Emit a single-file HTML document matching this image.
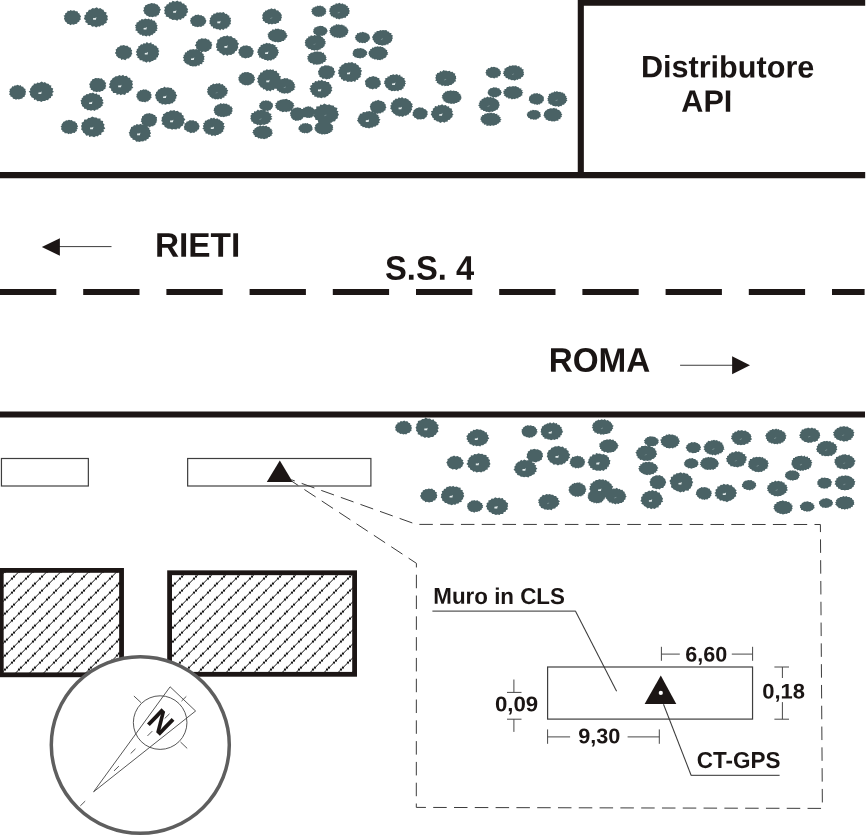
<!DOCTYPE html>
<html lang="it"><head><meta charset="utf-8"><title>Monografia CT-GPS - S.S. 4</title>
<style>
html,body{margin:0;padding:0;background:#fff;}
body{width:866px;height:836px;overflow:hidden;}
svg{display:block;will-change:transform;}
text{font-family:"Liberation Sans",Arial,Helvetica,sans-serif;font-weight:bold;fill:#1a1514;text-rendering:geometricPrecision;}
.t32{font-size:32px;}.t30{font-size:30.4px;}.t22{font-size:22px;}.t21{font-size:21px;}
.thin{stroke:#3e3e3e;stroke-width:1.2;fill:none;}
.dim{stroke:#484848;stroke-width:1.0;fill:none;}
.lead{stroke:#3a3a3a;stroke-width:1.05;fill:none;}
.uline{stroke:#585858;stroke-width:1.25;fill:none;}
.dash{stroke:#3c3c3c;stroke-width:1;fill:none;}
.thick{stroke:#1c1615;stroke-width:6.1;fill:none;}
</style></head><body>
<svg width="866" height="836" viewBox="0 0 866 836">
<defs>
<pattern id="hatch" patternUnits="userSpaceOnUse" x="-1" y="3.6" width="14" height="14">
<path d="M-1 15 L15 -1 M-1 1 L1 -1 M13 15 L15 13" stroke="#0d0d0d" stroke-width="1.0" fill="none"/>
<circle cx="1" cy="13" r="1.15" fill="#0d0d0d"/>
<circle cx="6" cy="8" r="1.15" fill="#0d0d0d"/>
<circle cx="8" cy="6" r="1.15" fill="#0d0d0d"/>
<circle cx="13" cy="1" r="1.15" fill="#0d0d0d"/>
</pattern>
</defs>
<rect x="0" y="0" width="866" height="836" fill="#ffffff"/>
<g id="trees" fill="#4a6265">
<path d="M63.9 18.8 L64.6 17.0 L63.5 15.7 L65.1 15.0 L65.2 13.2 L67.0 12.6 L67.6 10.8 L69.6 11.0 L70.4 10.0 L72.1 10.8 L74.3 10.3 L75.5 11.2 L77.5 11.3 L78.1 13.0 L79.6 13.6 L79.7 14.7 L81.1 16.3 L80.3 17.7 L80.8 19.5 L79.3 20.6 L79.4 21.6 L77.4 22.5 L77.1 23.8 L75.2 23.9 L73.6 24.8 L72.0 24.2 L70.4 25.2 L69.0 24.0 L67.5 23.9 L66.2 22.1 L65.0 21.6 L64.7 20.0Z M85.1 22.0 L85.8 20.2 L83.8 18.9 L84.8 16.8 L84.1 15.8 L86.2 14.2 L85.8 12.4 L87.7 11.9 L88.9 9.7 L90.5 9.7 L92.6 8.1 L94.3 8.4 L96.8 7.2 L98.5 8.7 L100.2 8.1 L102.2 9.6 L103.5 9.8 L104.2 11.7 L106.7 12.6 L106.0 14.4 L107.9 15.9 L107.3 17.8 L107.9 19.7 L106.3 21.0 L107.0 22.5 L104.2 23.9 L103.3 25.5 L101.3 25.3 L99.6 26.8 L98.1 26.3 L96.2 27.5 L94.4 26.3 L92.1 26.8 L90.6 25.1 L87.6 24.9 L87.8 23.4Z M149.3 16.9 L147.9 16.1 L146.3 15.6 L145.8 14.5 L144.0 13.3 L144.3 11.8 L142.9 11.0 L144.0 9.5 L143.6 7.5 L144.9 7.0 L144.9 5.6 L147.0 4.8 L148.0 3.9 L149.9 3.8 L151.5 2.9 L153.3 3.6 L154.4 3.3 L155.9 4.3 L157.5 4.5 L158.6 6.2 L160.0 7.2 L159.6 8.2 L161.0 9.5 L159.8 11.2 L159.9 12.8 L159.1 13.2 L158.8 14.9 L156.5 15.7 L156.5 16.7 L154.3 16.6 L152.3 17.3 L151.1 16.8Z M177.3 20.7 L175.1 19.7 L172.3 20.0 L171.3 19.0 L169.1 18.5 L168.8 17.2 L165.6 16.4 L166.1 15.1 L164.0 13.3 L165.0 12.1 L164.1 10.8 L165.0 8.6 L164.0 7.1 L166.0 6.2 L166.8 4.3 L168.5 4.2 L169.1 2.3 L171.4 2.5 L172.6 0.7 L175.1 1.7 L177.3 0.4 L178.9 1.7 L181.1 1.5 L182.1 3.4 L184.2 3.5 L184.7 4.7 L186.7 5.7 L186.7 8.0 L188.2 8.9 L187.4 10.8 L188.3 12.0 L186.4 13.4 L186.6 15.7 L184.8 16.3 L183.8 18.2 L181.9 18.2 L180.9 19.9 L178.6 19.3Z M146.5 36.4 L144.3 35.6 L142.3 36.1 L142.0 34.7 L139.8 34.7 L139.2 33.4 L137.5 32.7 L137.6 31.3 L135.1 30.3 L136.3 28.8 L135.2 27.9 L135.9 26.5 L134.8 25.3 L136.6 24.3 L136.3 22.7 L138.8 21.8 L138.8 20.6 L140.5 20.6 L141.6 19.1 L143.8 19.4 L145.1 18.4 L147.2 19.3 L148.9 18.6 L150.1 19.8 L151.7 18.9 L152.5 20.4 L155.1 20.8 L155.2 22.3 L156.7 22.9 L156.4 24.5 L157.7 25.4 L156.8 27.1 L157.8 28.5 L156.5 28.9 L157.4 30.7 L155.5 31.3 L155.3 32.7 L153.1 33.7 L152.5 35.2 L151.3 34.8 L149.3 36.5 L148.0 35.3Z M194.9 26.8 L193.9 25.9 L192.2 25.8 L191.8 23.8 L190.6 23.7 L190.7 21.8 L189.8 21.1 L190.7 19.7 L190.5 18.3 L192.0 17.4 L192.3 16.6 L193.9 16.3 L195.4 14.8 L196.4 15.1 L198.8 14.4 L199.3 15.2 L201.8 15.2 L202.2 15.9 L204.1 16.4 L204.8 18.1 L205.8 18.8 L205.5 19.7 L206.5 20.7 L205.9 22.1 L205.7 23.3 L204.2 24.5 L204.2 25.4 L202.6 25.7 L201.1 26.9 L199.3 26.6 L197.8 27.3 L196.6 26.7Z M227.0 28.4 L224.8 28.5 L223.5 29.9 L221.3 29.1 L220.2 30.4 L218.8 29.3 L216.5 29.3 L215.0 28.3 L213.2 28.4 L212.8 26.4 L210.9 26.2 L210.7 24.5 L209.2 23.4 L209.9 21.9 L209.1 20.7 L210.3 20.0 L209.7 18.3 L211.3 16.9 L211.1 15.4 L213.2 15.0 L213.1 13.7 L215.9 13.5 L216.8 12.2 L218.3 12.8 L220.1 12.2 L221.7 12.7 L223.6 12.1 L225.4 13.9 L226.9 13.7 L227.8 15.3 L229.6 15.8 L229.0 17.2 L231.1 18.0 L230.4 19.7 L231.2 20.7 L230.4 22.2 L231.0 24.1 L229.4 24.7 L229.3 26.4 L227.8 26.8Z M129.1 58.5 L126.9 58.5 L125.4 60.2 L123.0 59.2 L121.1 59.9 L120.8 58.5 L118.3 58.1 L117.7 56.9 L116.1 55.8 L116.3 54.6 L114.8 52.9 L116.1 51.5 L115.6 49.4 L116.9 48.8 L117.5 47.2 L119.1 47.0 L120.4 45.5 L122.3 45.5 L123.8 45.1 L125.9 45.9 L127.2 45.5 L128.9 47.3 L131.0 47.8 L130.9 49.5 L132.2 49.9 L131.6 52.1 L132.4 53.9 L131.5 54.6 L131.1 56.6 L129.9 57.0Z M135.9 54.7 L137.2 53.3 L135.7 51.9 L136.9 50.6 L136.6 49.4 L138.5 48.0 L138.0 46.6 L139.7 46.0 L141.0 44.2 L142.7 44.4 L143.7 42.9 L145.3 43.7 L146.8 42.0 L148.8 43.5 L151.2 42.3 L151.8 44.2 L153.5 43.9 L154.4 45.5 L156.4 45.7 L157.1 47.4 L158.7 48.5 L158.2 49.9 L159.5 51.1 L158.4 52.3 L159.1 54.5 L158.1 55.4 L158.0 57.2 L156.5 57.5 L156.3 59.4 L154.0 60.1 L152.9 61.1 L151.9 61.0 L149.6 62.4 L148.1 61.2 L146.6 62.8 L144.6 61.4 L142.6 61.4 L142.5 60.2 L139.8 60.2 L139.1 58.2 L137.3 57.9 L137.7 56.2Z M212.4 44.8 L211.6 46.2 L211.3 48.7 L209.8 49.2 L208.7 50.8 L207.4 51.1 L205.9 52.0 L203.4 51.5 L201.6 52.5 L200.5 51.0 L198.0 50.5 L197.5 49.2 L196.1 48.6 L196.2 46.4 L194.8 45.4 L196.3 43.5 L195.8 42.2 L197.5 41.1 L198.4 39.2 L200.2 39.2 L201.3 38.2 L204.1 38.7 L205.6 38.2 L207.3 39.4 L209.0 39.5 L210.0 41.4 L211.7 42.1 L211.5 44.0Z M215.9 47.5 L216.4 45.7 L216.1 44.0 L217.3 42.6 L217.2 39.7 L219.2 39.0 L220.4 37.3 L221.7 37.3 L223.8 36.0 L225.8 36.3 L227.3 35.3 L228.9 36.6 L231.2 35.9 L233.0 37.9 L235.2 38.2 L235.6 39.4 L237.7 40.8 L237.1 42.0 L239.2 43.7 L237.8 45.3 L238.3 47.8 L237.5 48.8 L236.9 50.8 L235.4 51.1 L234.2 53.6 L232.4 54.0 L231.3 55.0 L228.5 54.8 L227.4 56.0 L225.5 54.6 L223.6 55.5 L221.4 53.4 L219.5 52.7 L219.3 51.6 L216.4 50.3 L217.5 48.6Z M184.8 63.1 L184.7 61.7 L183.1 60.5 L184.1 59.1 L182.8 57.4 L184.0 56.2 L183.4 55.0 L184.8 54.4 L184.9 52.5 L186.8 52.2 L187.2 50.8 L188.6 50.7 L189.8 49.4 L192.2 49.4 L193.0 49.0 L194.8 49.4 L196.3 48.9 L198.0 50.1 L199.8 50.2 L200.1 51.4 L201.9 51.7 L202.1 53.3 L203.7 53.9 L203.5 55.8 L204.7 56.3 L204.0 57.7 L204.5 59.4 L203.2 60.3 L204.4 61.6 L202.2 62.4 L202.3 64.2 L200.0 64.0 L199.3 66.0 L197.6 65.2 L196.1 66.5 L194.4 66.2 L192.8 66.5 L191.3 65.9 L189.9 66.0 L189.0 64.7 L186.7 64.3 L186.1 63.3Z M239.4 55.6 L239.3 53.8 L238.1 53.1 L238.9 51.3 L238.4 49.4 L239.7 48.9 L240.5 47.1 L241.8 46.7 L243.5 45.5 L244.7 45.8 L247.2 45.2 L247.9 45.9 L250.5 46.2 L251.0 47.5 L252.9 48.6 L252.5 49.6 L253.9 50.7 L253.3 52.4 L253.4 53.7 L252.5 54.9 L251.8 56.6 L249.6 57.3 L249.0 58.1 L247.2 57.8 L245.6 58.6 L243.4 57.7 L241.6 57.4 L240.9 55.9Z M274.0 59.4 L272.5 59.2 L271.0 60.7 L269.2 60.1 L267.7 60.9 L266.6 59.9 L264.7 60.1 L263.3 58.8 L262.0 59.0 L260.7 57.6 L259.3 57.7 L259.1 55.6 L257.8 54.8 L258.4 53.6 L256.8 52.1 L258.3 51.0 L257.4 49.9 L258.8 48.8 L258.8 47.6 L260.7 46.4 L260.6 45.1 L262.7 44.7 L263.7 43.6 L264.9 44.1 L266.4 42.7 L268.2 43.6 L269.3 43.1 L271.4 44.3 L272.9 44.1 L274.0 45.1 L275.8 45.2 L275.3 46.7 L277.7 47.4 L276.9 48.8 L278.6 50.3 L278.1 51.5 L279.1 52.8 L277.9 53.6 L277.9 55.2 L276.6 55.9 L276.2 57.8 L275.0 57.9Z M24.7 96.8 L22.9 97.2 L22.4 98.5 L20.2 98.9 L18.8 99.6 L17.4 99.0 L16.0 99.8 L14.8 98.9 L13.0 98.7 L12.3 97.0 L10.4 96.5 L10.5 95.4 L9.1 94.6 L9.9 92.8 L9.1 91.3 L10.0 90.6 L9.6 89.1 L11.3 88.2 L12.2 86.3 L13.8 86.4 L14.3 85.6 L16.0 85.5 L17.7 84.7 L19.5 85.8 L20.7 85.1 L21.4 86.5 L23.3 86.8 L23.8 88.2 L25.6 89.0 L25.3 90.2 L26.1 91.7 L25.4 93.3 L25.9 94.1 L24.8 95.6Z M45.2 101.0 L42.8 100.9 L41.4 102.0 L39.5 101.1 L37.2 101.2 L36.0 99.5 L34.0 99.9 L33.8 98.2 L31.4 97.3 L31.0 96.0 L29.9 95.1 L30.2 93.1 L28.7 91.6 L30.4 90.6 L29.9 88.9 L31.4 87.2 L31.9 85.9 L33.6 85.0 L33.9 83.4 L36.3 83.8 L37.2 82.5 L39.2 82.9 L41.7 81.5 L43.5 82.7 L44.9 82.1 L46.5 83.5 L48.5 83.8 L49.6 85.3 L51.4 85.5 L50.9 87.4 L53.2 88.4 L52.6 90.8 L54.0 91.7 L52.2 93.1 L53.0 95.4 L51.2 96.2 L50.9 98.1 L49.0 98.6 L48.1 100.2 L46.1 100.1Z M90.8 89.7 L90.7 88.0 L89.6 87.4 L89.9 85.5 L88.9 83.8 L90.2 83.4 L90.4 81.5 L91.6 81.1 L92.5 79.0 L93.8 79.1 L95.4 77.9 L97.5 78.3 L99.0 77.9 L99.9 78.8 L101.7 78.3 L103.3 80.2 L104.5 80.2 L104.9 82.2 L106.3 82.8 L105.5 84.7 L106.3 85.9 L105.5 87.1 L105.7 88.5 L103.6 89.8 L103.0 91.0 L101.5 91.1 L99.7 92.0 L98.2 91.6 L96.7 92.2 L95.1 91.5 L93.0 91.4 L92.7 90.2Z M128.2 92.9 L126.4 92.8 L125.0 95.0 L122.5 94.2 L120.6 95.2 L119.3 93.9 L116.6 94.9 L116.2 93.1 L113.0 93.0 L112.7 91.5 L111.0 90.4 L111.2 88.8 L108.7 87.2 L110.0 85.6 L108.9 84.1 L110.3 82.9 L110.1 81.0 L112.0 79.6 L112.6 78.0 L114.2 77.6 L115.5 76.3 L117.5 76.2 L119.5 74.9 L121.1 75.9 L123.1 74.8 L124.4 76.3 L126.8 75.8 L128.1 77.8 L130.1 77.7 L130.7 80.1 L132.9 80.9 L132.0 82.9 L133.1 84.0 L132.0 86.1 L133.4 88.0 L131.6 88.4 L131.4 90.2 L129.5 90.9Z M94.7 111.0 L92.9 110.0 L90.9 110.8 L89.3 110.1 L87.1 110.2 L86.2 108.8 L84.5 109.0 L83.8 107.2 L81.8 106.1 L82.1 104.8 L80.9 103.8 L81.3 102.1 L80.4 100.6 L81.9 99.4 L81.6 98.0 L83.1 97.4 L83.2 96.0 L85.6 95.2 L86.5 94.0 L88.3 94.2 L89.8 92.9 L91.7 93.3 L92.9 92.6 L95.0 94.0 L96.9 93.2 L97.4 94.7 L99.6 94.7 L100.4 97.0 L101.9 97.0 L101.9 98.9 L103.4 100.0 L102.4 101.8 L103.9 102.9 L102.3 103.9 L102.8 105.7 L101.2 106.4 L100.4 107.8 L98.7 108.2 L98.1 109.6 L95.8 109.8Z M142.5 102.1 L141.0 101.4 L138.8 101.0 L138.5 99.5 L137.3 99.5 L137.4 98.1 L136.2 97.0 L136.8 95.3 L136.3 94.4 L137.7 93.0 L137.5 91.8 L139.5 91.2 L140.3 90.0 L142.0 90.2 L143.2 89.2 L144.9 89.8 L146.1 89.3 L147.4 90.6 L148.9 90.7 L149.5 91.8 L150.9 92.1 L150.6 93.6 L151.7 94.8 L151.1 96.2 L151.7 97.8 L150.6 98.3 L150.2 99.8 L149.1 100.0 L148.1 101.5 L146.1 101.4 L145.3 102.4 L143.9 101.7Z M161.9 104.8 L161.3 103.5 L158.9 103.1 L158.6 101.6 L157.0 100.9 L156.4 98.9 L155.5 98.3 L155.7 96.6 L154.8 95.0 L155.9 93.7 L156.1 92.0 L157.3 91.5 L158.2 89.6 L159.6 89.3 L160.9 87.9 L162.8 88.0 L164.8 86.6 L165.8 87.7 L168.1 87.2 L169.0 87.8 L172.1 87.9 L172.0 89.2 L174.3 90.1 L174.4 91.3 L175.9 92.1 L175.8 94.1 L177.3 95.5 L175.9 97.0 L176.7 98.1 L175.3 99.0 L175.4 100.9 L173.7 101.7 L172.4 103.4 L171.0 103.2 L169.8 104.3 L167.3 104.0 L165.3 104.8 L163.7 104.0Z M68.6 134.3 L67.3 133.3 L64.7 133.3 L64.1 132.1 L62.3 131.5 L62.3 130.2 L60.9 129.2 L61.6 127.7 L60.6 126.5 L61.9 125.3 L61.5 124.3 L62.8 122.9 L63.4 121.7 L65.1 121.2 L66.0 120.3 L67.4 120.6 L68.9 119.7 L70.7 120.2 L71.8 119.9 L72.9 121.2 L75.3 121.5 L75.8 123.0 L76.8 123.1 L77.2 124.9 L78.2 126.4 L77.1 127.3 L77.8 128.8 L76.6 129.4 L77.0 130.9 L75.4 131.7 L74.8 133.1 L72.8 132.8 L71.1 134.1 L69.5 133.5Z M97.7 136.6 L96.1 136.0 L94.1 137.2 L91.9 136.3 L89.1 137.0 L88.8 135.2 L86.2 135.8 L84.9 133.4 L83.2 132.8 L82.6 130.8 L81.0 129.2 L81.7 127.9 L81.0 125.7 L82.0 124.7 L81.5 122.8 L83.7 121.8 L84.3 119.5 L86.9 119.5 L88.4 117.7 L90.0 118.0 L92.3 116.6 L94.3 117.6 L96.5 117.6 L97.5 118.4 L100.5 118.5 L100.6 120.4 L103.2 121.0 L102.9 123.0 L104.7 124.7 L103.7 126.1 L105.3 128.5 L103.3 129.7 L104.4 131.2 L101.4 132.7 L101.2 134.9 L99.2 134.8Z M153.3 126.3 L151.0 126.2 L149.8 127.5 L148.8 126.6 L146.8 127.0 L146.1 126.0 L143.9 125.9 L143.8 124.5 L141.7 123.9 L142.1 122.8 L140.6 121.3 L141.5 120.2 L141.0 118.9 L142.0 118.1 L142.0 116.3 L143.5 115.8 L144.1 114.6 L145.1 114.3 L146.6 113.5 L148.4 113.5 L149.4 112.9 L150.9 113.8 L152.2 113.7 L154.0 114.9 L155.2 115.1 L155.5 116.4 L157.1 117.2 L156.7 118.9 L157.3 120.3 L156.5 120.8 L156.8 122.3 L155.8 123.1 L155.2 125.0 L153.6 125.5Z M161.6 124.2 L162.7 122.1 L161.2 121.0 L161.8 119.5 L161.7 117.4 L163.4 115.8 L162.8 114.3 L164.9 113.5 L166.8 111.7 L168.6 111.9 L170.5 110.3 L172.1 110.7 L174.4 110.0 L175.4 111.2 L177.5 110.8 L179.6 112.6 L181.6 112.8 L181.9 114.8 L183.8 115.7 L183.5 117.6 L185.4 119.5 L183.8 121.2 L184.7 123.2 L183.2 123.7 L183.2 125.5 L180.9 126.5 L179.8 128.8 L177.1 128.4 L176.5 129.4 L173.3 129.0 L172.2 129.8 L170.3 128.8 L167.7 128.8 L166.6 127.7 L164.7 127.0 L164.2 125.2Z M196.8 131.6 L195.5 131.6 L194.2 133.0 L192.4 132.6 L190.7 133.2 L188.7 131.8 L187.0 131.8 L186.4 130.5 L184.3 129.8 L184.2 127.7 L183.7 127.1 L184.7 125.2 L184.4 123.8 L186.2 122.8 L186.6 121.4 L188.0 121.6 L189.9 120.1 L191.0 120.6 L193.6 120.2 L194.6 121.2 L196.3 120.9 L197.3 122.8 L198.5 123.2 L198.9 125.0 L199.7 126.0 L199.1 127.7 L199.1 129.3 L197.7 129.7Z M203.6 131.0 L204.3 129.8 L202.3 128.7 L203.6 127.6 L202.8 125.8 L204.1 124.8 L203.0 123.1 L204.7 122.8 L204.9 120.8 L206.7 120.6 L208.2 119.2 L209.5 119.5 L210.9 117.7 L212.7 118.4 L214.1 117.4 L215.2 118.9 L217.5 118.3 L218.0 119.2 L219.8 119.4 L220.6 120.7 L222.3 121.2 L222.9 122.8 L224.4 123.3 L223.5 125.4 L225.1 126.7 L223.6 127.7 L224.5 129.1 L223.0 129.8 L223.4 131.5 L221.6 132.4 L221.2 133.4 L218.9 134.1 L218.5 135.0 L216.3 134.9 L215.3 136.3 L213.9 135.3 L211.5 136.0 L210.5 134.5 L208.3 134.7 L207.9 133.7 L205.5 133.4 L205.4 131.7Z M130.6 137.6 L130.4 136.5 L129.2 135.0 L129.7 134.0 L128.6 132.7 L129.9 131.6 L129.8 129.9 L130.7 129.0 L131.1 126.9 L133.1 126.6 L134.0 124.9 L135.3 125.5 L136.7 124.1 L138.7 124.7 L141.0 123.7 L141.8 124.8 L144.1 124.1 L144.8 125.8 L147.0 126.1 L147.9 127.3 L149.3 128.0 L149.3 129.5 L150.5 130.4 L150.0 131.8 L151.2 133.3 L149.8 134.5 L150.9 136.4 L148.9 137.2 L148.6 138.7 L146.7 139.3 L146.2 140.8 L144.2 140.5 L143.2 141.6 L141.1 141.2 L139.4 141.9 L138.0 141.4 L136.2 141.7 L135.0 140.1 L132.6 139.8 L132.4 138.3Z M268.6 24.4 L267.3 23.1 L265.4 23.1 L264.6 21.5 L262.7 20.8 L263.1 19.3 L262.1 18.4 L262.7 16.6 L262.1 15.1 L263.0 13.9 L263.3 12.4 L264.7 11.9 L265.3 10.4 L266.8 10.5 L268.4 9.2 L270.0 9.2 L271.3 8.3 L273.2 9.3 L275.0 8.6 L276.5 10.4 L278.2 10.3 L279.0 11.8 L280.5 12.7 L281.0 14.1 L281.9 15.0 L281.4 16.5 L282.0 17.8 L281.0 18.8 L281.3 20.5 L279.0 21.2 L279.0 22.8 L276.5 23.2 L276.0 23.9 L273.3 23.7 L272.0 24.6 L270.3 23.8Z M281.1 42.1 L279.5 41.9 L277.8 42.5 L276.9 41.7 L275.1 42.3 L273.8 41.4 L271.9 41.3 L271.6 40.4 L269.7 39.8 L269.6 39.0 L268.5 38.5 L268.4 37.0 L267.7 36.3 L268.3 35.1 L267.2 34.0 L269.0 33.3 L268.5 32.5 L270.1 31.8 L270.2 30.9 L272.0 30.4 L272.4 29.2 L274.6 29.7 L275.4 28.5 L276.9 29.1 L278.1 28.6 L280.1 29.4 L281.5 29.3 L282.3 30.1 L283.9 30.0 L284.6 31.2 L286.0 31.8 L285.5 32.8 L287.0 33.8 L286.3 34.5 L287.9 35.7 L286.7 36.7 L286.9 37.4 L285.4 38.5 L285.5 39.7 L284.1 39.7 L284.1 41.1 L281.8 41.0Z M316.4 16.7 L315.1 15.9 L314.0 15.6 L313.4 14.5 L311.9 14.0 L312.4 12.8 L311.1 11.5 L312.0 10.8 L311.3 9.3 L312.4 9.0 L312.8 7.6 L314.2 7.4 L315.2 6.4 L316.8 6.4 L317.4 5.6 L318.6 5.9 L320.4 5.6 L321.5 6.2 L323.1 6.3 L324.0 7.7 L325.4 8.1 L325.2 9.0 L326.4 9.7 L325.7 10.8 L326.5 12.1 L325.6 12.6 L325.9 14.1 L324.4 14.6 L323.7 15.8 L322.5 15.7 L321.7 16.8 L320.0 16.5 L318.8 17.0 L317.2 16.5Z M336.2 19.1 L335.2 17.6 L333.5 17.5 L332.5 16.3 L331.0 16.3 L330.7 14.4 L329.4 14.1 L330.4 12.5 L328.7 11.0 L330.2 9.9 L329.0 8.9 L330.5 8.0 L330.8 6.1 L332.3 6.1 L332.9 4.9 L335.3 4.6 L335.8 3.3 L337.7 3.8 L339.4 2.8 L341.1 4.1 L342.5 3.2 L343.9 4.4 L345.2 4.2 L346.2 5.7 L348.0 6.0 L347.5 7.5 L349.4 8.3 L348.8 9.7 L350.0 10.9 L349.0 12.1 L349.7 13.3 L348.0 14.4 L347.8 16.1 L346.4 16.1 L345.9 17.8 L343.7 17.7 L342.3 18.6 L340.8 18.4 L339.1 19.4 L337.9 18.4Z M316.7 35.5 L315.4 34.2 L313.9 33.7 L313.7 32.7 L313.0 31.8 L313.6 30.8 L313.2 29.4 L314.2 29.0 L314.4 27.5 L316.1 27.3 L317.1 26.4 L318.6 26.3 L320.1 25.7 L321.1 26.1 L323.2 26.1 L323.6 27.0 L325.6 27.5 L326.0 28.2 L327.1 28.9 L327.0 30.0 L327.9 31.0 L326.8 32.2 L326.7 33.4 L325.4 34.0 L325.0 35.2 L323.7 35.2 L322.2 36.0 L320.6 35.6 L319.2 36.4 L317.8 35.3Z M330.3 34.6 L330.6 33.3 L329.4 32.6 L330.0 31.3 L329.0 30.8 L330.4 29.4 L329.6 28.5 L331.0 28.0 L330.9 26.9 L333.1 26.2 L333.6 25.3 L335.3 25.4 L336.1 24.1 L337.6 24.7 L338.8 24.2 L340.0 24.9 L342.1 24.4 L343.0 25.5 L344.3 25.2 L344.7 26.4 L346.4 26.8 L346.8 28.3 L348.3 28.9 L347.6 29.7 L348.8 30.7 L347.8 31.7 L348.3 32.8 L347.4 33.5 L347.0 35.0 L345.7 35.0 L345.4 36.8 L343.3 36.7 L343.2 37.4 L341.4 37.4 L339.7 38.3 L338.5 37.5 L337.4 38.0 L335.9 37.2 L333.8 37.5 L333.7 36.3 L332.2 36.2 L331.5 35.1Z M324.7 45.9 L323.3 47.1 L323.0 47.8 L320.8 48.5 L320.3 49.7 L319.2 49.5 L317.4 50.7 L315.9 50.0 L314.4 50.7 L313.0 49.9 L311.6 50.3 L310.4 48.9 L308.2 49.0 L308.1 47.8 L306.3 47.2 L306.4 46.0 L304.8 45.5 L305.5 43.9 L304.7 42.5 L305.5 41.5 L304.8 40.7 L306.2 39.5 L306.4 38.5 L308.2 38.0 L308.1 36.5 L310.1 36.5 L310.9 35.2 L313.2 35.9 L314.6 34.7 L315.7 35.6 L317.7 34.9 L319.0 36.0 L320.8 35.7 L321.5 37.1 L322.8 37.2 L323.4 38.6 L325.1 39.6 L324.6 41.0 L326.0 41.6 L325.2 42.8 L325.8 43.8 L324.5 44.7Z M320.3 64.3 L318.0 64.4 L316.6 64.7 L315.3 64.3 L313.4 64.7 L312.5 63.2 L310.1 62.9 L309.7 61.9 L307.8 61.0 L308.6 60.1 L307.1 59.1 L308.0 57.7 L307.0 56.4 L308.7 55.7 L308.4 54.3 L309.9 53.9 L310.8 52.7 L313.1 52.6 L314.5 51.4 L316.1 51.8 L317.0 51.2 L318.7 51.7 L321.3 51.7 L322.2 52.9 L323.9 52.6 L324.2 54.4 L325.6 54.9 L325.8 56.5 L326.6 57.2 L325.8 58.5 L326.9 59.6 L325.5 60.5 L325.3 62.1 L323.6 62.1 L322.7 63.7 L321.3 63.5Z M355.4 39.4 L355.6 38.5 L354.7 37.3 L355.7 36.4 L355.3 35.4 L357.0 34.6 L357.1 33.1 L358.7 33.3 L360.1 32.2 L361.4 32.5 L362.7 31.8 L364.4 32.4 L366.2 32.7 L366.9 33.4 L368.7 33.9 L368.7 35.0 L369.7 35.7 L369.7 37.1 L370.4 38.2 L369.5 38.8 L369.4 40.3 L368.0 40.8 L367.6 41.9 L366.3 41.9 L365.3 43.2 L363.5 42.7 L362.3 43.3 L360.9 42.5 L359.4 43.1 L358.3 41.8 L356.7 41.3 L356.7 40.3Z M376.0 44.1 L375.2 42.6 L374.1 42.2 L373.7 40.4 L372.6 39.8 L372.8 38.4 L371.9 37.0 L373.2 35.8 L373.0 34.9 L374.6 33.7 L374.6 32.3 L376.3 32.5 L376.6 31.1 L379.2 31.0 L380.1 30.1 L381.5 30.6 L382.9 29.9 L384.3 30.3 L386.6 30.1 L387.0 31.3 L389.2 31.7 L389.4 32.9 L391.6 33.1 L391.1 34.5 L393.1 35.7 L392.3 36.8 L392.8 38.4 L392.0 39.4 L392.1 41.0 L390.8 41.8 L390.9 42.5 L388.7 43.2 L388.4 44.6 L386.0 44.4 L385.6 45.3 L383.5 45.2 L382.1 45.7 L380.6 45.0 L378.5 44.9 L377.4 43.9Z M354.7 57.3 L353.9 55.9 L352.7 55.4 L353.0 53.8 L352.2 53.2 L353.4 51.9 L352.8 51.2 L354.3 50.1 L354.6 49.0 L356.3 49.0 L357.3 48.3 L359.0 48.5 L360.8 47.9 L361.9 48.4 L363.5 48.7 L364.4 49.5 L366.1 50.5 L366.1 51.0 L367.5 52.0 L366.7 53.3 L367.4 54.4 L365.9 55.2 L365.4 56.6 L364.0 56.9 L363.3 57.9 L361.4 57.8 L360.3 58.5 L358.5 58.1 L357.2 58.1 L356.5 57.4Z M385.4 58.0 L383.7 58.2 L382.8 59.5 L381.1 59.4 L380.4 60.3 L378.6 59.8 L377.7 60.2 L376.5 59.3 L374.2 59.6 L373.7 58.8 L371.8 58.4 L371.7 57.8 L369.6 57.0 L370.1 56.2 L368.7 55.2 L369.1 54.3 L368.1 53.0 L369.1 52.3 L368.8 51.3 L370.2 50.4 L370.2 49.0 L371.7 48.9 L372.1 47.5 L373.8 47.7 L375.0 46.4 L376.1 46.9 L377.2 46.3 L379.1 46.8 L380.7 46.2 L381.3 47.0 L382.8 47.1 L384.3 48.3 L385.3 48.6 L385.6 49.5 L387.3 50.3 L386.9 51.7 L388.4 52.4 L387.4 53.0 L388.3 54.6 L386.6 55.0 L386.7 56.3 L385.9 56.9Z M326.4 79.6 L324.8 78.5 L322.5 78.9 L321.7 77.5 L319.5 77.0 L319.3 75.1 L318.3 74.4 L318.4 72.8 L317.9 71.3 L319.2 70.1 L319.6 68.1 L320.7 67.4 L321.3 66.2 L323.4 66.2 L324.7 65.2 L327.1 65.4 L328.9 65.4 L330.0 66.3 L332.0 66.4 L332.6 67.6 L334.0 68.2 L334.1 70.6 L335.5 71.7 L334.4 72.9 L334.5 74.9 L333.0 75.8 L332.8 77.4 L330.8 77.7 L329.7 79.1 L328.2 78.8Z M358.1 80.1 L356.2 79.8 L355.1 81.9 L353.4 81.1 L351.5 82.1 L349.8 81.4 L347.4 81.9 L346.0 80.6 L343.4 81.1 L342.8 79.5 L341.2 79.2 L340.6 77.0 L338.7 76.6 L339.5 74.7 L337.8 73.2 L338.8 71.9 L338.1 70.3 L339.8 69.0 L339.2 66.9 L341.1 66.5 L341.5 65.1 L343.7 64.3 L344.9 62.7 L347.3 63.2 L348.6 62.2 L350.1 62.7 L352.1 61.9 L354.0 63.6 L355.6 63.0 L356.7 64.8 L358.3 65.0 L359.2 67.3 L361.4 67.9 L360.4 69.8 L362.1 70.4 L360.8 72.9 L361.6 74.2 L360.5 75.2 L360.8 76.9 L358.4 78.3Z M255.3 79.9 L253.9 80.8 L253.8 82.5 L251.8 83.4 L251.0 84.5 L249.6 84.7 L248.0 85.6 L246.1 84.9 L245.3 85.6 L243.9 84.7 L242.3 84.6 L241.3 83.3 L239.3 82.2 L239.5 81.2 L238.4 80.0 L238.8 78.4 L238.1 77.7 L239.7 76.1 L239.3 74.7 L241.0 74.4 L242.1 72.7 L243.8 72.7 L244.6 72.0 L246.2 72.3 L248.1 72.0 L249.9 73.1 L251.4 72.9 L251.8 74.1 L253.8 75.0 L253.9 76.2 L255.0 77.5 L254.3 78.5Z M258.6 85.0 L258.8 83.4 L257.2 81.8 L258.2 80.0 L256.9 78.5 L258.3 77.2 L258.6 75.3 L260.0 74.5 L260.2 72.5 L262.3 72.4 L263.5 70.4 L265.3 70.4 L266.6 69.2 L268.8 70.0 L270.5 69.3 L271.6 70.1 L273.3 69.2 L274.3 71.0 L276.7 70.8 L277.4 73.0 L279.4 73.6 L279.0 75.8 L281.0 76.3 L280.3 78.1 L281.0 79.7 L280.3 81.1 L280.6 83.7 L278.9 84.4 L279.1 86.7 L277.2 86.4 L276.4 88.5 L274.3 88.7 L274.0 90.3 L271.8 89.8 L270.5 91.4 L268.6 90.3 L266.8 91.2 L264.8 89.1 L263.6 89.8 L262.4 87.7 L260.5 87.3 L260.0 85.8Z M290.4 92.7 L288.9 92.8 L287.9 93.8 L286.0 93.0 L284.7 93.7 L283.1 93.2 L281.4 93.2 L281.0 92.3 L278.9 92.3 L278.9 91.0 L276.7 90.4 L277.0 88.9 L275.7 88.5 L276.7 87.3 L275.5 86.2 L276.5 85.1 L275.7 83.8 L277.2 83.0 L276.6 81.6 L278.8 80.9 L278.9 79.7 L280.7 80.0 L281.7 78.8 L283.0 79.0 L284.5 77.9 L286.0 78.6 L287.3 78.0 L288.9 79.4 L290.4 79.3 L290.8 80.1 L292.9 80.8 L292.7 81.9 L294.2 82.5 L294.1 83.7 L295.2 84.7 L294.3 86.0 L295.8 87.0 L294.2 88.0 L294.6 89.9 L292.9 90.2 L292.8 91.1 L291.2 91.3Z M314.6 96.9 L314.1 95.1 L312.1 94.8 L311.8 92.8 L310.1 91.4 L310.8 90.2 L309.1 88.8 L311.0 87.4 L309.9 86.1 L312.3 84.7 L311.9 83.1 L314.3 82.7 L315.1 81.1 L317.4 81.4 L318.7 80.0 L320.1 80.9 L321.7 79.7 L323.7 81.2 L325.4 80.8 L326.4 82.1 L329.0 82.0 L329.7 84.2 L331.1 84.7 L331.2 86.6 L332.5 87.8 L331.4 88.9 L332.4 91.0 L331.0 91.5 L330.8 93.3 L328.8 94.6 L328.2 95.8 L326.3 96.4 L325.0 97.8 L323.0 97.3 L321.6 98.2 L319.5 97.4 L317.5 97.7 L316.1 96.4Z M381.0 84.4 L379.7 85.6 L379.6 86.7 L377.6 87.6 L376.6 89.0 L374.2 88.6 L372.8 89.4 L371.2 88.8 L369.6 88.8 L368.1 87.2 L366.3 87.0 L366.0 85.4 L365.1 84.3 L365.4 82.9 L364.8 80.8 L366.2 80.1 L366.5 78.8 L368.4 78.1 L369.2 76.7 L370.7 76.9 L373.3 76.1 L374.8 76.8 L376.4 76.7 L377.3 77.7 L379.4 78.2 L379.4 79.9 L380.6 80.9 L380.5 82.5Z M401.6 90.2 L399.2 90.1 L398.1 91.6 L396.6 90.4 L394.7 91.3 L393.8 90.7 L391.5 91.3 L390.4 90.2 L388.4 90.1 L388.2 88.4 L386.3 88.1 L386.3 86.9 L384.9 86.1 L385.4 84.7 L383.7 83.3 L384.8 81.9 L383.9 81.2 L385.5 79.9 L384.8 78.6 L387.5 77.8 L387.4 76.5 L389.4 76.4 L390.2 74.9 L392.4 75.1 L392.8 73.9 L394.8 75.0 L397.0 74.1 L398.3 75.5 L400.1 74.6 L400.6 76.4 L402.5 76.7 L402.8 77.9 L404.7 77.9 L404.4 80.0 L405.8 81.2 L404.9 82.5 L406.1 83.7 L404.9 84.2 L405.0 86.2 L403.3 86.8 L403.9 88.2 L401.9 88.9Z M206.8 91.8 L207.9 90.7 L207.0 89.2 L208.2 88.3 L208.0 87.0 L209.9 86.6 L210.5 84.9 L211.7 84.9 L213.2 83.6 L214.9 84.2 L216.8 83.3 L217.7 83.8 L219.9 83.0 L220.7 84.5 L222.7 84.0 L223.5 85.4 L225.3 86.2 L225.2 87.4 L227.2 88.0 L226.6 89.3 L228.3 90.4 L227.1 92.1 L227.8 92.9 L226.3 94.4 L226.6 95.8 L224.7 95.8 L224.2 97.8 L222.7 97.5 L221.2 99.2 L219.3 98.6 L218.2 99.5 L216.3 98.9 L215.2 99.6 L213.7 98.5 L212.1 98.4 L210.8 97.1 L209.9 96.8 L209.3 95.2 L207.8 94.5 L207.8 93.0Z M231.9 113.7 L230.4 114.2 L229.7 115.7 L227.9 115.7 L226.7 116.6 L225.2 116.6 L223.9 117.2 L222.8 116.7 L220.5 117.0 L219.9 116.2 L218.0 116.5 L216.6 115.0 L215.3 114.9 L215.2 113.7 L214.1 112.7 L214.4 111.3 L213.4 110.5 L214.1 109.3 L214.0 107.9 L215.4 107.1 L214.8 106.0 L216.8 105.6 L217.6 104.4 L219.5 104.3 L220.6 103.0 L222.1 103.9 L223.9 103.3 L225.0 103.9 L226.4 103.4 L227.9 104.7 L229.5 104.8 L229.9 106.2 L232.1 106.8 L231.8 108.1 L233.1 108.7 L231.9 109.8 L232.8 111.0 L231.6 112.3Z M271.9 108.8 L271.0 109.1 L270.6 110.2 L269.1 110.2 L267.6 111.2 L266.2 110.5 L264.9 111.2 L264.1 110.5 L262.8 110.7 L262.0 109.3 L260.6 109.2 L260.2 108.0 L259.1 107.3 L259.5 106.4 L258.9 105.4 L259.8 104.7 L259.4 103.3 L260.8 103.0 L261.0 101.7 L262.2 101.6 L263.0 100.6 L264.6 101.0 L265.6 100.3 L267.3 100.7 L268.7 100.6 L269.1 101.3 L270.7 101.4 L271.3 102.8 L272.5 102.9 L272.5 104.1 L273.2 105.1 L272.6 106.1 L273.1 106.7 L272.1 107.8Z M294.7 106.0 L293.1 106.8 L293.7 108.4 L292.4 108.5 L292.2 110.3 L290.3 110.4 L289.5 111.4 L287.1 111.4 L286.5 112.3 L284.8 111.6 L282.7 112.3 L281.3 111.3 L279.8 111.2 L278.8 110.0 L277.1 109.8 L276.7 108.5 L275.4 107.9 L275.9 106.4 L274.6 105.7 L276.3 104.3 L275.1 103.2 L277.1 102.6 L277.4 100.8 L279.2 100.7 L279.8 100.0 L282.3 99.6 L282.9 99.2 L284.7 99.3 L286.4 98.8 L288.4 100.0 L290.1 100.1 L290.2 101.0 L292.3 101.7 L292.8 102.9 L294.1 103.2 L293.4 104.5Z M260.2 125.5 L258.7 124.4 L257.4 125.2 L256.1 123.9 L253.4 123.6 L253.0 122.1 L251.0 121.3 L251.4 119.9 L250.2 118.7 L250.9 117.6 L250.4 115.7 L251.6 114.7 L251.3 113.1 L253.8 112.9 L254.1 111.2 L256.0 111.5 L257.9 109.6 L259.2 110.6 L261.2 109.7 L263.2 110.5 L265.0 110.3 L265.9 111.5 L268.9 111.6 L268.8 113.0 L271.6 114.1 L270.6 115.4 L272.5 116.7 L270.9 117.5 L272.4 118.9 L270.2 120.3 L270.6 122.2 L269.0 122.2 L268.1 123.7 L266.3 124.0 L264.1 125.0 L262.6 124.6Z M252.2 132.6 L253.3 131.5 L252.8 130.1 L254.4 129.8 L254.5 128.6 L255.7 128.0 L257.1 126.7 L258.7 126.6 L260.0 125.5 L261.5 126.3 L263.4 125.5 L264.6 126.3 L266.5 125.6 L267.2 126.8 L269.5 127.0 L270.0 128.4 L271.9 128.9 L271.3 130.3 L272.6 130.6 L271.8 132.2 L273.3 132.9 L271.5 134.2 L272.3 135.2 L270.5 136.0 L269.9 137.1 L268.4 137.1 L267.2 138.4 L265.9 138.4 L264.1 139.2 L262.4 138.6 L260.7 138.9 L260.0 138.1 L258.2 138.4 L257.3 137.1 L254.8 137.0 L254.9 135.4 L253.4 134.7 L253.9 133.9Z M293.1 120.1 L292.1 118.4 L291.2 117.9 L291.2 116.7 L290.1 115.3 L290.6 114.5 L289.8 113.1 L291.2 111.8 L290.5 110.8 L292.3 109.9 L292.7 108.9 L294.1 108.4 L294.8 107.7 L296.3 107.8 L297.5 107.2 L299.0 107.8 L300.9 108.0 L301.3 109.1 L302.9 109.1 L302.9 110.6 L304.6 111.4 L304.0 113.1 L305.2 114.1 L304.3 114.8 L304.6 116.8 L303.1 117.4 L302.8 118.8 L301.9 118.7 L301.0 120.2 L299.6 120.1 L298.3 120.8 L296.9 120.4 L295.6 120.9 L294.1 119.8Z M309.8 117.9 L308.3 117.7 L306.6 118.1 L306.2 117.3 L304.3 117.3 L303.6 116.2 L302.6 115.6 L302.3 114.4 L301.6 114.0 L301.9 112.5 L301.2 111.9 L302.1 110.5 L302.1 109.5 L303.1 109.0 L303.2 107.8 L304.8 107.7 L306.0 106.4 L306.8 107.0 L308.3 106.1 L309.0 106.8 L310.9 106.6 L311.4 107.4 L313.1 107.7 L313.2 108.6 L314.8 109.7 L314.4 110.9 L315.1 111.9 L314.6 112.5 L314.7 114.0 L313.9 114.4 L313.7 115.7 L312.8 116.2 L312.0 117.6 L310.6 117.4Z M331.5 122.8 L329.4 123.0 L326.9 124.2 L325.3 123.4 L323.0 123.8 L321.1 122.5 L318.4 122.7 L317.6 120.1 L315.5 120.0 L315.0 117.7 L313.4 116.3 L314.3 114.4 L312.7 112.7 L314.4 111.6 L314.1 109.8 L316.3 108.7 L316.2 106.5 L319.8 106.3 L320.0 104.6 L322.5 105.1 L324.2 103.5 L327.3 104.9 L329.4 104.2 L330.7 105.2 L334.2 105.7 L334.0 107.1 L337.5 108.1 L336.7 110.4 L338.6 111.5 L337.6 112.7 L339.0 114.6 L337.7 116.4 L337.9 118.3 L335.9 119.2 L335.1 121.2 L332.9 121.5Z M312.7 129.7 L311.9 130.0 L311.7 131.0 L310.4 131.5 L309.5 132.5 L308.1 132.7 L307.3 133.4 L305.6 132.8 L304.5 133.5 L303.3 132.7 L302.1 133.0 L301.2 131.7 L299.7 131.7 L299.9 130.6 L298.3 129.6 L298.9 129.0 L298.1 128.0 L299.3 127.0 L298.9 126.2 L300.2 125.7 L300.2 124.6 L301.9 124.4 L302.6 123.2 L304.2 123.6 L305.5 123.0 L306.3 123.5 L307.7 123.1 L308.6 124.0 L310.7 124.3 L311.0 125.3 L312.2 125.7 L311.9 127.0 L312.8 127.7 L312.4 128.3Z M314.9 130.8 L315.7 130.0 L314.0 129.1 L315.2 128.2 L314.2 127.4 L315.6 126.2 L314.9 125.3 L316.2 124.3 L316.4 123.7 L318.2 122.8 L318.5 122.2 L320.4 122.2 L321.3 121.2 L322.8 121.9 L323.9 121.2 L325.3 121.7 L327.3 121.6 L328.3 122.4 L329.6 122.4 L330.2 123.3 L331.5 124.1 L331.7 124.9 L333.2 125.6 L332.7 126.7 L333.3 127.9 L332.4 128.7 L333.4 129.9 L331.6 130.6 L332.3 131.5 L330.3 132.0 L330.3 133.1 L328.7 133.1 L327.7 134.1 L326.0 133.9 L324.5 134.5 L323.2 134.0 L322.0 134.7 L320.6 133.7 L318.9 133.7 L318.5 133.0 L317.1 132.7 L316.6 131.7Z M380.6 113.5 L378.7 113.2 L377.6 113.9 L376.3 113.0 L374.2 113.1 L373.8 112.1 L371.4 111.5 L371.2 109.9 L370.2 109.2 L370.4 108.1 L369.7 106.4 L370.4 105.6 L370.5 103.9 L372.0 102.8 L372.3 101.7 L374.2 101.4 L375.6 100.4 L376.6 100.7 L378.2 99.8 L379.7 100.7 L382.1 100.9 L382.4 101.7 L384.1 102.1 L384.8 104.1 L385.9 104.6 L385.6 105.9 L386.5 107.7 L385.6 108.3 L385.5 110.2 L383.8 110.9 L383.3 112.5 L381.8 112.3Z M360.3 125.6 L360.4 124.3 L358.4 123.0 L358.6 122.2 L356.9 120.6 L358.0 119.6 L357.5 118.2 L358.6 117.3 L358.7 115.7 L359.7 115.2 L359.8 113.7 L362.3 113.6 L362.8 112.1 L365.5 112.3 L366.6 111.2 L367.7 111.6 L369.5 111.1 L371.1 111.8 L373.4 111.6 L373.7 112.6 L376.3 112.7 L376.6 114.6 L378.7 114.9 L378.0 116.2 L379.6 117.1 L378.7 118.5 L380.6 119.6 L379.1 120.9 L379.8 122.7 L378.4 123.2 L378.3 125.1 L376.3 125.4 L375.4 126.7 L373.7 126.6 L372.4 127.8 L370.9 127.4 L369.1 128.4 L367.5 127.8 L365.7 128.0 L364.4 127.1 L362.6 127.3 L362.3 126.2Z M390.2 108.7 L390.8 107.0 L390.2 105.5 L391.6 104.9 L390.9 102.5 L392.6 102.5 L393.0 100.4 L394.4 100.2 L395.7 98.6 L397.5 98.9 L398.8 97.2 L400.6 98.3 L402.0 96.9 L403.8 98.4 L405.9 97.9 L407.1 99.2 L408.1 99.0 L408.9 100.4 L410.5 101.2 L411.1 102.9 L412.8 104.0 L411.9 105.6 L413.1 106.8 L411.6 107.8 L412.2 110.1 L411.1 110.5 L410.7 112.4 L409.1 113.1 L409.1 114.2 L406.6 114.9 L406.3 116.0 L404.4 115.5 L402.8 117.1 L400.9 116.1 L399.1 116.8 L398.2 115.7 L395.9 115.5 L394.7 114.1 L393.7 113.8 L392.7 112.2 L391.3 111.8 L392.0 110.0Z M412.3 115.2 L413.0 113.8 L412.4 112.7 L413.4 111.7 L413.6 110.2 L414.8 109.5 L416.2 108.2 L417.6 108.1 L418.9 107.2 L421.4 107.8 L422.7 107.4 L424.1 108.9 L426.0 109.5 L426.3 110.3 L428.0 111.9 L427.2 112.7 L427.8 114.4 L426.7 115.7 L426.7 117.0 L425.5 117.4 L423.9 119.2 L422.2 118.9 L421.0 119.6 L419.4 119.2 L417.3 119.5 L415.8 117.9 L414.1 117.5 L414.0 116.4Z M444.4 122.7 L442.5 121.8 L440.3 122.9 L438.5 121.5 L436.9 121.6 L435.8 120.2 L433.8 119.9 L433.8 118.3 L432.1 117.3 L432.1 116.0 L430.7 114.6 L431.8 112.7 L430.8 111.4 L433.0 110.4 L432.8 108.4 L434.4 107.9 L435.0 106.0 L437.4 106.4 L438.5 104.7 L439.8 105.4 L442.2 104.3 L443.6 105.5 L445.7 105.1 L447.1 106.5 L449.1 106.2 L449.3 107.9 L452.1 108.7 L451.7 110.2 L452.9 111.3 L452.0 112.9 L453.6 114.4 L452.4 115.5 L452.5 116.9 L450.7 118.2 L449.9 119.8 L448.0 120.1 L447.3 121.9 L446.0 121.5Z M436.6 82.8 L437.1 81.3 L435.1 80.6 L436.2 79.1 L435.1 78.0 L436.1 76.4 L435.5 74.8 L437.1 74.3 L436.9 73.1 L439.4 72.8 L440.1 71.1 L441.9 71.7 L443.5 70.1 L445.0 70.7 L446.1 70.4 L447.6 71.2 L450.1 70.7 L450.5 71.9 L452.6 71.8 L453.6 73.3 L455.3 73.6 L454.8 75.3 L456.1 76.1 L456.0 77.9 L456.4 78.9 L455.3 79.6 L456.2 81.2 L454.5 81.7 L453.8 83.3 L452.5 83.8 L451.5 85.1 L449.4 85.1 L448.6 86.0 L446.3 85.7 L444.6 86.3 L444.0 85.2 L441.8 85.9 L441.0 84.8 L438.6 84.3 L438.5 83.4Z M445.9 102.7 L445.1 101.4 L443.5 101.2 L443.6 99.7 L442.2 99.1 L442.8 97.9 L441.5 97.2 L442.5 96.6 L441.8 95.3 L443.2 94.4 L443.1 93.4 L444.6 92.8 L445.2 91.4 L446.8 91.6 L447.4 90.8 L449.1 91.1 L450.5 90.2 L452.3 91.0 L453.7 90.4 L454.8 91.0 L456.6 91.0 L457.6 92.1 L458.6 92.0 L458.8 93.5 L460.7 94.1 L460.1 94.9 L461.5 96.1 L460.8 96.9 L461.9 98.0 L460.6 98.9 L461.1 99.9 L459.6 100.5 L459.4 102.0 L458.0 101.9 L456.7 103.1 L455.3 103.1 L454.1 104.1 L452.8 103.5 L450.9 103.9 L449.9 103.3 L448.8 103.6 L447.0 102.7Z M494.3 78.5 L492.5 77.8 L490.7 78.0 L490.1 77.4 L488.6 77.1 L487.7 75.7 L486.1 75.3 L486.3 73.8 L485.3 72.8 L486.2 71.7 L486.0 70.1 L487.7 69.3 L488.0 68.1 L489.8 68.2 L491.3 66.8 L492.8 67.2 L493.9 66.8 L495.9 67.5 L497.6 67.8 L498.3 68.7 L499.5 69.1 L499.7 70.2 L501.0 71.4 L500.6 72.5 L501.1 74.0 L500.2 74.6 L500.1 76.1 L497.8 76.6 L497.5 77.9 L495.8 77.6Z M505.8 78.1 L505.3 76.3 L503.7 76.1 L504.1 74.3 L502.7 73.6 L503.7 72.5 L503.5 71.0 L504.8 70.4 L504.2 68.8 L506.3 68.1 L506.7 67.0 L508.2 66.9 L509.5 65.4 L511.1 66.1 L512.5 65.2 L514.0 65.6 L516.2 65.3 L517.6 66.5 L519.1 65.7 L520.0 67.4 L521.8 67.4 L521.7 69.1 L523.9 69.6 L523.0 71.3 L524.1 71.9 L523.5 73.3 L524.2 74.9 L523.0 75.4 L523.2 76.5 L521.0 77.4 L520.7 79.1 L518.8 78.8 L517.5 79.9 L516.4 79.4 L514.8 80.7 L513.2 79.9 L511.5 80.3 L509.8 79.3 L508.3 79.4 L507.9 78.3Z M501.0 94.8 L499.5 95.4 L498.6 96.4 L497.5 96.5 L496.1 97.5 L494.5 97.1 L492.9 97.2 L491.5 96.4 L489.8 96.3 L489.3 95.2 L487.8 94.1 L487.9 93.1 L487.5 92.0 L488.3 91.3 L488.3 90.0 L489.8 89.1 L490.2 88.2 L492.5 88.0 L493.1 87.3 L494.8 87.5 L496.8 87.4 L497.4 88.2 L499.3 88.2 L499.9 89.7 L501.2 90.5 L501.0 91.5 L502.0 92.3 L500.9 93.7Z M520.7 96.8 L518.7 97.2 L518.1 98.6 L516.0 98.2 L515.0 99.3 L513.4 98.7 L511.8 99.4 L510.5 98.3 L508.4 98.8 L508.0 97.5 L506.2 97.4 L505.5 96.2 L503.8 95.6 L504.5 94.3 L502.8 93.0 L504.1 92.3 L502.9 91.0 L504.7 90.5 L504.3 89.0 L506.0 88.9 L506.9 87.1 L508.6 87.1 L509.0 86.2 L511.1 86.7 L513.2 85.9 L514.0 86.4 L516.0 86.0 L516.9 87.1 L518.6 87.2 L519.6 88.4 L521.4 88.5 L521.2 90.1 L522.9 90.5 L521.9 91.7 L523.4 92.8 L521.9 93.7 L522.6 95.3 L520.7 96.0Z M478.0 105.3 L479.6 104.2 L478.6 103.0 L480.0 102.3 L479.6 100.8 L481.4 100.5 L481.7 98.9 L483.4 98.8 L484.0 97.6 L485.9 97.8 L487.5 96.6 L489.0 97.6 L491.0 96.8 L491.7 97.8 L493.7 97.3 L494.8 98.7 L496.4 98.9 L496.6 100.1 L498.3 100.4 L498.5 102.0 L499.4 102.5 L499.1 104.1 L500.1 105.2 L498.6 106.1 L499.4 107.0 L498.2 107.9 L497.9 109.5 L495.8 110.0 L495.6 110.8 L494.0 111.0 L492.4 112.1 L491.0 111.5 L489.4 112.6 L487.6 111.8 L485.9 112.1 L485.3 111.0 L483.1 110.9 L483.0 110.0 L480.4 109.5 L480.7 108.5 L479.1 107.4 L479.6 106.6Z M490.8 126.0 L488.9 125.6 L486.5 125.9 L486.3 124.6 L483.9 124.7 L484.0 123.6 L482.4 123.2 L482.1 121.8 L480.4 121.2 L481.5 120.2 L479.8 119.0 L481.2 118.3 L480.5 116.8 L482.1 116.5 L482.1 115.0 L483.9 115.0 L484.5 113.8 L486.9 113.4 L487.3 113.0 L489.3 113.2 L491.2 112.5 L492.3 113.3 L494.4 112.9 L495.3 114.0 L497.3 113.8 L497.4 115.2 L499.5 115.5 L499.2 116.8 L500.9 117.4 L500.1 118.8 L501.7 119.8 L500.2 120.6 L500.8 121.9 L499.4 122.2 L498.7 123.4 L496.9 123.9 L497.1 124.7 L495.0 125.0 L493.8 125.8 L491.7 125.3Z M543.9 101.0 L542.6 101.6 L542.1 103.2 L540.7 103.2 L539.8 104.4 L538.3 104.3 L537.4 105.1 L535.7 104.2 L534.2 104.6 L533.6 103.8 L531.5 103.6 L531.3 103.0 L529.9 102.4 L529.9 101.1 L528.6 100.4 L529.1 99.3 L528.9 97.8 L529.5 97.1 L529.6 96.0 L530.8 95.6 L531.8 94.1 L532.9 94.4 L533.8 93.2 L535.7 93.6 L537.3 93.0 L538.5 93.9 L539.9 93.5 L540.7 94.8 L542.0 94.9 L542.5 95.9 L544.1 96.9 L543.5 98.1 L544.2 99.1 L543.6 99.7Z M558.5 107.0 L557.2 106.0 L555.8 106.5 L554.1 106.0 L552.8 106.0 L552.0 104.7 L550.1 104.7 L550.1 103.9 L548.2 103.2 L548.6 101.6 L547.4 100.6 L548.1 99.4 L547.1 98.8 L548.4 97.8 L547.9 96.2 L549.1 95.7 L548.7 94.1 L550.9 93.5 L551.7 92.4 L553.4 92.6 L554.4 91.2 L555.9 92.1 L556.7 90.9 L558.5 91.9 L560.3 91.7 L561.2 92.6 L563.1 92.6 L563.4 93.4 L565.1 93.8 L565.1 95.6 L566.7 96.2 L566.0 97.2 L567.3 98.6 L566.4 99.5 L567.5 100.4 L566.0 101.7 L566.0 102.7 L564.7 103.4 L564.1 104.8 L562.4 104.7 L561.4 106.2 L560.1 105.9Z M530.7 119.4 L529.5 118.1 L528.4 117.9 L528.0 117.0 L526.9 115.8 L527.2 114.8 L526.5 114.1 L527.7 113.3 L527.7 111.9 L529.5 111.5 L530.2 110.6 L532.0 110.4 L532.8 109.7 L534.5 110.3 L536.1 110.1 L536.8 110.6 L538.5 110.8 L539.0 112.0 L540.4 112.3 L540.2 113.9 L541.0 114.7 L540.4 115.6 L541.0 116.5 L539.2 117.5 L538.8 118.6 L537.7 118.5 L536.2 119.8 L534.8 119.4 L533.1 119.7 L532.3 119.1Z M543.4 115.5 L544.0 114.2 L544.0 112.7 L544.8 111.9 L545.1 110.9 L546.5 110.3 L547.4 109.2 L548.8 109.0 L550.3 108.2 L552.5 108.6 L554.1 107.7 L554.9 108.6 L556.9 108.6 L557.4 109.7 L559.4 110.0 L559.9 111.3 L561.3 112.1 L561.1 113.3 L562.4 114.6 L561.3 115.6 L562.0 116.8 L560.6 117.5 L560.3 119.3 L558.6 119.1 L558.4 120.7 L555.9 120.8 L554.8 121.4 L553.1 121.2 L551.7 121.4 L550.5 120.8 L548.8 121.0 L547.2 119.8 L545.8 119.7 L545.5 117.9 L544.3 117.5 L544.4 116.4Z M403.3 434.5 L402.0 433.7 L400.3 434.0 L398.6 432.6 L397.5 432.4 L396.5 430.9 L395.3 430.2 L395.7 428.2 L394.8 427.2 L395.9 425.9 L395.6 424.9 L397.4 423.9 L397.4 422.5 L399.6 422.4 L400.7 421.0 L402.4 421.4 L404.2 420.6 L405.7 421.6 L407.3 421.1 L408.1 422.6 L410.1 423.2 L410.3 424.7 L411.6 425.2 L411.2 427.1 L412.0 427.7 L411.3 429.4 L411.5 431.1 L410.0 431.6 L409.8 432.8 L407.6 433.1 L406.2 434.5 L404.8 434.1Z M439.0 428.1 L437.6 429.6 L438.5 431.6 L436.8 432.8 L435.9 434.7 L434.2 435.3 L433.3 436.9 L431.0 436.9 L428.8 438.1 L426.3 436.9 L425.0 438.1 L422.8 436.5 L420.9 436.6 L420.1 434.9 L417.7 434.3 L417.8 432.3 L416.0 430.8 L416.4 428.9 L415.5 427.8 L416.6 426.0 L416.3 423.9 L417.8 423.0 L417.9 421.1 L420.8 420.2 L422.3 419.0 L424.3 419.1 L425.3 417.6 L427.9 418.7 L429.9 418.4 L431.7 419.9 L433.5 419.3 L434.3 421.1 L436.7 422.2 L436.7 424.1 L438.8 425.0 L437.7 427.1Z M466.3 439.1 L467.3 437.8 L466.2 435.9 L467.9 435.1 L467.9 433.5 L469.9 432.9 L470.4 431.2 L472.6 431.2 L473.0 429.7 L475.1 430.1 L476.8 429.1 L479.2 429.7 L480.8 429.4 L482.4 430.4 L484.4 431.0 L484.8 432.3 L486.9 432.2 L486.9 434.3 L488.7 435.5 L487.8 436.5 L489.3 438.5 L487.5 439.7 L488.2 440.5 L486.6 442.2 L486.6 443.2 L484.5 443.9 L483.1 445.2 L481.1 445.3 L480.4 446.4 L478.2 445.7 L476.2 446.3 L475.0 445.3 L473.2 445.9 L472.1 444.7 L469.5 444.0 L469.3 442.4 L467.4 441.4 L468.1 440.4Z M534.8 436.0 L533.2 436.5 L532.1 437.6 L530.7 437.3 L529.1 437.9 L528.1 437.3 L526.6 437.3 L525.5 436.5 L523.5 436.0 L523.2 434.9 L522.0 434.1 L522.2 433.0 L521.5 432.1 L521.9 430.7 L521.4 429.8 L523.1 428.6 L522.7 427.7 L524.2 427.0 L525.5 425.7 L527.0 425.8 L527.6 424.9 L529.2 425.7 L530.8 425.3 L532.1 426.0 L534.1 426.1 L534.7 427.2 L535.9 427.6 L536.0 428.7 L537.4 429.6 L536.7 430.9 L537.9 432.1 L536.5 432.8 L536.7 433.9 L535.5 434.7Z M544.4 438.7 L544.3 437.2 L542.9 437.1 L542.6 435.5 L541.0 434.8 L541.5 433.1 L540.5 431.9 L541.1 430.4 L540.8 429.2 L541.9 428.1 L541.9 426.3 L543.2 426.3 L544.3 424.7 L546.2 424.3 L547.3 423.2 L548.9 423.6 L549.9 422.3 L551.9 423.4 L553.7 422.2 L555.0 423.5 L557.0 423.1 L557.2 424.6 L559.7 424.9 L560.2 426.7 L561.7 427.0 L561.4 428.6 L562.5 430.0 L562.2 430.8 L563.3 431.9 L561.8 433.1 L561.8 435.0 L560.3 435.5 L560.3 437.3 L558.3 437.5 L558.0 439.3 L555.8 439.1 L555.0 440.0 L553.0 439.4 L551.0 440.2 L549.7 439.6 L547.7 439.5 L547.1 438.7Z M462.4 466.6 L461.1 467.3 L460.4 468.4 L458.3 468.6 L456.7 470.0 L454.5 469.1 L452.3 469.6 L451.5 468.7 L449.1 467.8 L448.3 466.3 L447.4 465.6 L447.1 463.5 L446.2 462.7 L447.6 460.7 L447.4 458.9 L449.0 458.5 L450.6 456.8 L452.3 456.6 L454.1 455.6 L455.4 456.4 L457.6 456.1 L459.4 457.2 L460.8 457.2 L461.5 459.3 L463.4 460.3 L462.6 461.6 L464.0 463.1 L462.8 464.7Z M481.3 472.6 L479.2 471.8 L476.5 472.4 L474.9 471.3 L473.5 471.9 L472.4 470.6 L470.1 469.5 L469.9 468.0 L467.7 467.0 L468.3 465.5 L466.4 464.1 L468.2 462.1 L467.1 460.8 L468.6 459.8 L468.7 457.9 L470.7 456.7 L470.9 455.3 L473.1 455.6 L474.2 453.9 L476.7 454.2 L478.4 453.3 L480.6 454.1 L482.4 453.8 L483.4 454.7 L486.5 455.0 L486.6 456.7 L488.9 457.4 L488.3 459.0 L490.1 460.1 L489.4 461.8 L490.5 464.0 L489.4 465.4 L489.9 467.0 L487.6 467.8 L487.9 469.4 L486.0 469.8 L484.2 471.6 L482.3 471.4Z M528.7 477.6 L525.8 476.8 L524.1 477.3 L522.4 476.7 L520.8 476.7 L519.5 475.4 L517.2 474.9 L517.1 473.4 L515.4 472.8 L515.4 471.4 L513.5 469.6 L514.8 468.2 L514.2 466.7 L515.6 465.6 L515.7 463.7 L516.9 463.2 L518.1 461.8 L519.8 461.5 L521.0 459.8 L522.6 460.7 L524.2 459.6 L526.5 460.4 L528.9 459.9 L529.5 460.8 L531.5 461.0 L532.2 462.5 L534.9 463.0 L534.5 464.7 L536.4 465.6 L535.5 467.0 L537.4 468.5 L535.9 470.0 L536.8 471.6 L534.7 472.4 L534.9 474.1 L532.2 475.1 L531.2 476.1 L529.3 476.3Z M541.7 459.9 L540.1 460.2 L539.4 461.3 L537.4 461.6 L536.0 462.4 L533.2 461.8 L531.5 461.8 L530.6 460.9 L528.5 460.5 L528.0 458.8 L526.4 457.5 L527.1 455.6 L526.7 454.1 L527.9 453.0 L527.8 451.6 L529.8 450.8 L530.1 449.5 L532.5 449.4 L534.2 448.8 L536.2 449.4 L537.8 449.2 L539.0 450.1 L541.4 450.9 L541.6 452.3 L542.9 453.6 L542.6 455.1 L543.1 456.7 L542.0 457.6Z M564.9 463.4 L563.6 463.2 L562.0 464.8 L559.6 464.6 L557.9 465.5 L556.0 464.2 L553.6 464.8 L552.1 462.9 L549.9 462.2 L549.4 460.8 L547.8 459.6 L548.0 458.3 L546.7 456.3 L547.5 455.1 L547.0 453.1 L548.2 451.9 L548.3 450.5 L550.7 449.4 L551.3 447.7 L553.0 447.5 L555.0 446.2 L557.2 446.5 L558.5 445.7 L561.0 447.0 L562.8 446.4 L564.6 448.4 L566.5 448.1 L566.7 450.1 L568.7 451.0 L568.5 453.0 L570.3 454.6 L569.1 456.4 L570.3 457.4 L568.4 458.8 L568.1 460.7 L566.1 461.3Z M437.1 497.8 L435.7 498.8 L435.4 500.3 L432.9 500.8 L432.7 502.1 L430.6 502.0 L429.2 502.6 L427.0 501.8 L425.1 502.2 L424.8 501.1 L422.6 500.3 L422.1 499.1 L420.7 498.2 L421.0 497.3 L419.9 496.0 L421.2 494.2 L420.8 492.8 L422.5 492.0 L422.9 490.3 L424.5 490.1 L425.6 488.9 L427.2 489.3 L428.6 488.5 L430.5 489.1 L432.0 488.5 L433.5 490.0 L434.6 490.0 L435.4 491.9 L436.8 492.1 L436.5 494.0 L437.4 495.6 L436.8 496.3Z M451.7 505.3 L450.1 504.4 L448.2 504.3 L446.6 503.0 L444.9 503.0 L444.1 501.4 L442.1 500.6 L442.2 498.8 L440.8 497.6 L441.4 495.7 L440.9 494.6 L442.3 493.0 L441.7 491.3 L443.6 490.4 L444.0 488.7 L445.4 488.9 L446.8 486.8 L448.0 487.0 L449.9 485.9 L451.8 486.7 L453.1 485.7 L454.8 486.9 L456.7 486.4 L458.4 487.6 L460.7 487.8 L460.5 489.5 L463.0 490.5 L462.5 491.7 L464.1 493.2 L463.3 494.4 L464.3 496.0 L463.0 497.9 L463.2 499.1 L461.4 500.3 L461.8 502.1 L459.2 502.2 L458.3 503.7 L456.6 503.4 L455.1 505.0 L453.7 504.2Z M483.1 507.4 L481.7 508.4 L481.9 509.5 L480.3 510.3 L479.8 511.2 L478.1 511.3 L477.3 512.1 L475.4 511.8 L474.4 512.7 L472.5 511.7 L470.7 511.9 L470.5 510.9 L468.7 510.5 L468.3 509.0 L467.5 508.4 L467.6 507.4 L466.9 505.9 L467.6 505.2 L467.3 503.7 L468.8 502.9 L469.2 502.1 L470.9 501.6 L471.5 500.5 L473.5 500.6 L474.1 500.0 L475.5 500.7 L477.5 500.2 L478.9 501.4 L480.0 501.5 L480.7 502.9 L482.3 503.1 L482.0 504.5 L483.3 505.6 L482.6 506.2Z M508.0 509.2 L505.9 510.3 L506.0 511.5 L503.6 512.3 L503.2 514.0 L500.4 514.0 L499.6 515.1 L497.6 514.5 L495.8 515.0 L493.8 514.1 L492.2 514.0 L491.2 512.5 L488.9 512.1 L488.4 510.1 L486.8 509.3 L487.0 507.4 L485.7 506.3 L486.9 505.0 L486.6 503.1 L488.6 502.3 L488.2 500.5 L490.6 500.0 L491.6 498.4 L493.6 498.8 L495.1 497.2 L497.3 498.3 L499.5 497.4 L500.3 498.5 L502.7 498.1 L503.8 500.1 L505.6 500.3 L505.9 502.0 L508.2 503.3 L507.6 504.9 L508.2 506.3 L507.2 507.2Z M592.7 430.6 L593.2 428.6 L591.7 427.9 L592.8 426.4 L592.1 425.1 L593.4 424.1 L592.9 423.0 L595.0 422.3 L595.3 420.9 L597.4 420.6 L598.2 419.6 L599.9 420.2 L601.6 419.2 L603.3 420.0 L604.7 419.1 L606.2 420.4 L607.9 419.9 L609.3 421.4 L610.6 421.7 L611.1 423.0 L612.3 423.9 L612.1 425.0 L613.8 425.8 L612.5 427.3 L613.3 428.4 L612.1 429.3 L611.6 431.0 L610.4 431.2 L610.3 433.0 L607.9 433.4 L607.0 434.1 L604.9 434.1 L603.7 434.8 L602.4 434.2 L600.5 434.7 L599.3 433.6 L597.4 433.9 L596.4 432.8 L594.4 432.4 L594.2 431.0Z M601.3 450.8 L601.3 449.2 L600.0 448.7 L600.1 447.1 L598.9 446.3 L599.7 445.4 L599.2 443.6 L601.1 442.9 L600.6 441.9 L602.9 441.3 L603.5 440.3 L605.6 440.1 L607.0 439.2 L608.2 439.7 L610.3 438.9 L611.3 439.9 L613.3 439.6 L614.3 441.1 L615.8 441.3 L616.5 442.8 L617.4 443.3 L617.6 444.4 L618.7 445.4 L617.5 446.9 L618.0 448.1 L616.3 448.9 L616.0 450.4 L615.0 450.6 L613.9 452.1 L612.0 452.1 L611.1 452.5 L609.3 452.4 L607.7 453.0 L605.8 451.8 L604.0 452.4 L603.1 450.9Z M570.8 466.1 L570.9 464.6 L569.3 463.6 L570.3 462.1 L569.6 461.3 L570.6 460.2 L570.3 458.8 L571.6 458.4 L572.2 456.8 L573.9 456.9 L574.9 456.2 L576.3 456.2 L577.6 455.6 L578.6 456.3 L580.9 456.3 L581.1 457.2 L582.9 457.3 L583.3 458.9 L584.8 459.4 L584.4 461.0 L585.3 461.8 L584.6 462.9 L584.6 464.4 L583.6 464.9 L583.5 466.3 L582.0 466.7 L581.0 467.7 L579.8 467.5 L578.5 468.5 L577.1 467.8 L575.5 468.6 L574.2 467.3 L572.5 467.5 L572.1 466.2Z M600.3 471.1 L598.9 470.4 L596.4 470.8 L594.6 469.8 L592.5 469.9 L592.4 468.2 L590.2 468.1 L590.1 465.7 L588.6 465.6 L588.9 463.8 L587.4 462.6 L588.6 461.0 L588.4 459.5 L589.5 458.5 L589.9 456.5 L591.7 456.4 L592.8 454.2 L595.4 454.7 L596.0 453.1 L598.3 453.8 L599.8 453.4 L602.1 454.4 L603.8 453.9 L605.1 455.1 L607.5 455.5 L607.4 456.8 L609.0 457.5 L609.0 459.8 L610.6 460.5 L609.8 461.9 L610.2 463.7 L608.7 465.1 L609.2 466.6 L607.5 466.8 L606.8 469.3 L605.1 469.2 L603.6 470.9 L601.8 470.1Z M568.3 489.9 L569.4 488.7 L568.5 487.6 L569.7 487.0 L569.6 485.9 L571.5 485.2 L572.0 483.7 L573.2 484.0 L574.3 482.7 L575.4 483.3 L577.2 482.4 L578.1 482.8 L580.2 482.3 L580.5 483.6 L582.6 483.4 L582.7 484.7 L584.4 485.0 L584.9 486.2 L585.6 486.8 L585.4 488.3 L586.5 489.0 L585.6 490.5 L586.3 491.3 L585.1 492.1 L585.0 493.7 L583.4 494.1 L583.6 495.2 L581.8 495.5 L581.2 496.5 L579.1 496.1 L578.4 497.0 L576.5 496.2 L575.2 496.9 L574.1 495.7 L572.8 495.9 L571.9 494.7 L570.2 494.0 L570.6 493.0 L568.8 492.3 L569.4 491.2Z M596.4 503.6 L595.0 502.6 L593.9 503.5 L593.1 502.1 L591.7 502.3 L590.7 501.3 L589.1 500.7 L589.3 499.7 L588.2 498.9 L588.1 497.6 L587.3 497.2 L588.4 496.0 L587.5 495.0 L588.6 494.2 L588.3 492.9 L590.1 492.1 L590.4 491.0 L591.6 491.3 L592.2 490.1 L594.5 490.5 L595.6 489.2 L596.8 490.0 L597.9 489.3 L598.7 490.3 L600.6 490.2 L601.2 491.4 L603.1 491.4 L603.0 492.5 L604.8 493.1 L604.1 494.2 L605.1 495.3 L604.5 496.3 L605.8 497.1 L604.7 498.0 L604.8 499.3 L603.3 499.8 L603.2 501.1 L602.2 501.3 L601.6 502.5 L599.7 502.4 L599.3 503.3 L597.6 502.9Z M593.6 496.9 L593.7 495.6 L591.2 495.0 L591.9 493.5 L590.0 492.5 L590.3 490.3 L589.0 489.1 L590.1 487.9 L589.5 486.2 L591.1 485.6 L590.0 483.7 L592.3 483.2 L593.4 481.2 L594.6 481.5 L595.8 479.9 L598.3 480.0 L598.9 479.1 L601.2 479.7 L603.3 479.2 L604.4 480.4 L605.8 479.8 L607.6 481.5 L609.4 481.6 L609.4 483.1 L611.5 484.0 L611.6 485.4 L613.3 486.5 L612.2 488.2 L612.9 489.4 L612.0 490.8 L612.3 492.8 L610.3 493.7 L610.5 495.4 L608.5 495.7 L608.4 497.3 L605.5 497.2 L604.0 498.3 L602.8 497.8 L601.0 499.2 L599.2 498.0 L597.0 498.6 L596.5 497.0Z M622.1 503.1 L619.5 503.1 L618.9 503.9 L616.4 503.6 L615.5 504.6 L613.5 503.2 L612.0 503.8 L611.4 502.6 L609.0 502.5 L608.6 501.0 L607.4 500.4 L607.2 499.4 L605.4 497.9 L606.4 497.1 L605.6 495.8 L606.5 494.7 L606.1 492.8 L607.6 492.3 L607.8 491.0 L610.0 490.6 L610.5 489.5 L612.7 489.4 L613.2 488.4 L615.3 488.7 L616.8 487.8 L618.4 489.2 L619.9 488.8 L620.6 489.9 L622.4 489.8 L623.5 491.5 L624.6 491.7 L624.8 493.4 L625.8 494.0 L625.6 495.6 L626.7 496.5 L625.4 497.7 L625.6 499.3 L623.9 500.3 L624.1 501.5 L622.2 502.2Z M538.1 502.5 L539.0 501.3 L537.9 500.1 L539.6 499.1 L539.9 497.4 L541.8 496.6 L542.7 494.8 L544.9 495.3 L546.1 494.1 L548.3 494.6 L549.5 494.1 L551.3 494.8 L553.0 494.7 L554.3 496.1 L556.2 496.0 L556.8 497.6 L558.6 498.5 L557.9 499.8 L560.1 501.3 L558.6 502.4 L559.6 504.0 L558.0 505.2 L557.8 506.2 L556.0 507.0 L555.2 508.6 L552.6 508.8 L551.7 510.2 L549.6 509.4 L547.5 510.0 L546.7 509.5 L544.2 509.5 L543.5 508.4 L541.1 508.0 L540.6 506.5 L539.1 505.5 L539.3 503.6Z M657.7 444.3 L656.1 444.8 L655.7 446.0 L654.2 445.8 L653.3 446.3 L651.4 446.0 L650.2 446.5 L649.2 446.0 L647.4 446.0 L646.6 444.6 L645.0 444.3 L645.2 443.5 L644.1 442.5 L644.8 441.7 L643.8 440.6 L645.2 439.6 L645.2 438.5 L646.3 438.3 L647.3 437.1 L648.6 436.9 L649.8 436.2 L651.5 436.5 L652.3 436.4 L653.7 436.8 L655.3 437.0 L656.2 438.2 L657.5 438.3 L657.5 439.3 L658.9 440.0 L658.1 441.5 L659.2 442.1 L658.0 443.0Z M679.5 443.6 L677.7 444.5 L678.4 445.8 L676.5 446.0 L676.0 447.3 L673.9 447.5 L672.9 448.5 L671.1 447.7 L669.7 448.4 L667.9 447.9 L666.2 448.1 L665.6 447.0 L663.6 446.5 L663.0 445.3 L661.3 445.0 L661.8 443.3 L660.7 442.7 L661.1 441.5 L660.1 439.7 L661.9 439.0 L661.3 437.6 L662.8 437.1 L663.6 436.0 L665.1 436.0 L666.2 434.5 L668.3 435.1 L668.7 433.8 L670.6 434.8 L672.8 434.5 L674.0 435.2 L675.6 435.2 L675.9 436.2 L678.1 436.8 L677.8 438.2 L679.5 438.7 L678.6 440.0 L680.2 441.1 L678.9 442.4Z M643.9 461.1 L642.0 459.7 L640.2 460.0 L639.0 458.2 L637.7 458.2 L637.6 456.5 L636.2 455.2 L636.7 454.0 L635.3 452.6 L636.7 451.5 L636.5 450.2 L638.3 449.2 L638.2 447.7 L640.7 447.5 L641.3 446.0 L644.1 446.1 L645.1 445.6 L647.3 446.3 L649.6 445.5 L650.3 446.7 L652.6 447.0 L653.4 448.0 L655.5 448.8 L655.0 450.0 L656.5 451.1 L656.3 452.7 L657.3 454.3 L655.8 455.4 L656.2 456.6 L654.8 457.5 L653.9 458.7 L652.1 459.0 L651.0 460.6 L649.1 460.5 L647.1 461.0 L646.1 460.6Z M643.8 474.3 L642.7 473.5 L641.1 472.8 L640.6 472.0 L639.2 470.9 L639.2 469.7 L638.2 468.4 L639.6 467.4 L638.5 466.3 L640.4 465.7 L640.4 463.9 L642.0 464.2 L642.7 462.4 L644.8 462.5 L645.6 461.7 L647.5 462.3 L649.1 461.6 L650.5 462.3 L653.0 462.2 L653.7 463.7 L655.8 463.9 L656.0 465.3 L657.3 465.4 L657.2 466.8 L658.4 468.1 L657.0 469.2 L657.8 470.6 L656.1 471.2 L656.3 472.6 L654.3 472.8 L653.6 474.3 L652.0 473.9 L649.8 475.1 L648.3 474.5 L647.3 475.3 L645.1 474.4Z M649.4 481.8 L650.5 480.5 L650.4 479.0 L651.7 478.0 L652.5 476.7 L654.7 475.9 L655.9 475.2 L658.3 475.5 L659.9 475.1 L660.9 476.1 L662.7 476.2 L663.7 478.1 L665.2 479.0 L665.4 480.3 L666.2 482.3 L665.4 484.0 L665.1 485.6 L664.1 486.0 L663.2 488.1 L661.0 488.1 L659.8 489.4 L657.9 488.7 L656.4 489.3 L654.9 488.5 L652.1 487.9 L652.3 486.5 L650.0 485.4 L650.3 483.9Z M692.4 485.3 L691.2 486.8 L690.6 488.6 L689.1 489.1 L688.6 490.7 L685.3 490.6 L683.9 492.3 L682.4 491.4 L680.3 492.4 L678.3 491.3 L677.0 491.3 L675.2 489.9 L673.5 489.4 L673.0 488.4 L671.0 487.3 L671.3 484.8 L670.0 483.8 L670.4 482.3 L669.3 481.0 L671.1 478.9 L670.7 477.1 L673.0 476.5 L673.4 474.5 L675.5 474.5 L676.3 473.3 L678.5 473.3 L680.7 472.3 L682.7 473.5 L683.8 472.5 L685.4 473.5 L687.7 473.8 L689.0 475.8 L690.9 476.2 L691.1 477.8 L692.6 478.8 L691.8 480.8 L693.3 481.9 L692.0 484.0Z M654.6 509.0 L652.8 508.3 L651.0 509.2 L649.5 507.7 L647.3 508.4 L646.2 506.9 L644.0 506.0 L643.5 504.7 L641.2 503.7 L642.2 502.3 L640.3 500.9 L641.3 499.4 L641.1 497.1 L642.6 496.3 L642.6 494.1 L644.5 493.7 L644.7 492.2 L647.0 492.0 L649.1 490.5 L650.4 491.2 L652.3 490.1 L654.6 491.3 L656.1 490.6 L657.8 492.5 L659.7 492.6 L660.3 494.6 L661.4 495.2 L661.9 497.1 L663.1 498.8 L662.2 500.3 L663.2 501.8 L661.1 502.6 L661.0 504.5 L658.9 505.6 L658.3 507.7 L657.0 507.2Z M689.0 452.6 L688.0 451.0 L686.4 450.3 L687.1 449.5 L685.5 447.7 L686.5 446.8 L686.2 445.6 L687.4 444.9 L688.1 443.6 L690.2 443.0 L691.5 442.1 L693.0 442.5 L694.9 442.0 L696.1 442.7 L697.5 442.9 L698.6 444.0 L700.2 444.9 L700.0 445.8 L701.1 447.3 L700.2 448.4 L701.0 449.4 L699.2 450.4 L699.1 451.9 L697.2 452.1 L696.0 453.1 L694.6 452.9 L692.4 453.2 L691.2 452.4Z M703.6 449.6 L704.6 448.1 L703.1 446.7 L704.7 446.0 L704.4 444.6 L706.1 443.9 L705.8 442.7 L707.3 442.6 L708.1 440.8 L710.3 441.2 L711.4 440.3 L712.3 440.5 L714.1 439.8 L715.1 440.6 L717.1 440.1 L717.9 441.2 L720.1 441.2 L720.2 442.3 L722.4 442.7 L722.2 444.2 L723.6 444.9 L723.1 445.9 L724.2 447.1 L723.7 448.2 L724.7 449.5 L723.0 450.1 L723.1 451.8 L721.9 452.0 L721.4 453.3 L719.2 453.3 L719.0 454.5 L717.1 454.2 L715.3 455.6 L713.7 454.4 L712.5 455.5 L711.5 454.4 L709.7 454.5 L708.3 453.4 L706.7 453.4 L706.7 452.2 L704.8 451.6 L704.9 450.2Z M694.3 468.1 L693.0 468.0 L691.6 468.7 L689.5 467.9 L688.2 468.4 L687.4 467.2 L685.6 467.1 L685.4 465.9 L683.9 464.9 L684.6 463.8 L683.6 463.0 L684.8 462.1 L685.1 460.7 L685.9 460.2 L686.5 459.5 L688.4 458.9 L689.4 458.2 L690.8 458.5 L692.8 458.1 L693.6 458.9 L695.2 458.9 L696.3 460.3 L697.9 460.7 L697.6 461.7 L698.6 462.8 L698.1 463.6 L698.5 464.7 L697.5 465.5 L696.7 467.0 L694.9 467.2Z M718.7 465.2 L717.8 465.6 L717.9 466.8 L715.8 467.5 L715.8 468.8 L714.2 468.9 L713.3 470.0 L711.9 469.3 L710.2 470.1 L709.1 469.6 L707.2 470.1 L706.3 469.4 L704.8 469.5 L704.0 468.6 L702.4 468.0 L702.2 466.8 L700.5 466.5 L701.1 465.3 L699.6 464.5 L700.9 463.3 L699.9 462.4 L701.4 461.2 L701.1 460.3 L702.3 459.7 L703.0 458.2 L704.6 458.3 L705.4 457.6 L707.4 457.5 L708.1 456.7 L709.7 457.6 L711.0 456.9 L712.7 457.8 L714.6 458.1 L715.3 459.0 L716.5 459.2 L716.8 460.2 L718.1 461.1 L717.9 462.3 L719.4 463.1 L718.3 464.1Z M704.4 499.9 L703.2 499.2 L702.0 499.7 L700.9 498.6 L699.3 498.7 L698.6 497.6 L697.3 496.8 L697.1 495.4 L695.6 494.6 L696.3 493.0 L696.0 492.3 L696.8 491.1 L697.0 489.8 L698.3 489.2 L699.1 488.2 L700.5 488.1 L701.2 487.0 L702.9 487.4 L705.0 486.9 L705.8 487.6 L707.1 487.4 L708.2 488.6 L709.9 488.7 L710.0 490.2 L711.5 490.9 L711.3 492.2 L712.0 493.6 L711.1 494.0 L711.4 495.8 L710.5 496.2 L710.0 497.8 L708.3 498.2 L707.5 499.4 L705.6 499.2Z M716.6 498.5 L717.0 496.8 L714.8 495.9 L715.8 494.0 L714.4 492.9 L715.9 491.7 L715.4 489.7 L717.4 488.5 L717.3 486.6 L719.2 486.6 L720.8 484.7 L722.3 485.0 L723.7 483.7 L725.8 484.8 L727.8 483.9 L729.9 485.4 L731.5 484.8 L732.7 486.9 L734.6 487.7 L734.9 489.0 L736.7 490.3 L735.7 491.4 L737.1 492.9 L735.7 494.5 L736.3 496.3 L734.1 497.4 L734.1 498.6 L732.5 499.2 L730.5 500.8 L729.1 500.8 L727.0 502.2 L724.9 500.9 L723.9 501.6 L722.0 500.2 L720.0 500.7 L718.9 498.7Z M740.8 445.3 L739.3 444.7 L737.2 444.9 L736.4 443.7 L734.6 443.7 L734.3 442.3 L732.4 441.3 L732.7 440.0 L730.8 438.6 L731.9 437.4 L731.0 435.9 L732.5 435.3 L732.1 433.6 L734.0 432.9 L734.9 431.4 L736.7 431.7 L738.1 430.0 L739.8 430.7 L742.1 429.9 L743.2 430.9 L745.7 430.6 L746.5 431.6 L748.6 432.2 L749.1 433.3 L750.6 434.3 L751.0 435.7 L751.6 436.6 L750.8 437.5 L752.1 439.2 L750.3 440.2 L751.0 441.7 L748.6 442.3 L748.3 443.7 L746.0 443.8 L744.5 445.0 L742.6 444.7Z M728.2 464.0 L727.8 462.2 L726.4 461.6 L726.8 459.8 L725.8 458.3 L727.3 457.7 L726.9 456.3 L728.8 455.3 L729.2 453.7 L731.2 453.2 L731.7 451.9 L733.9 452.4 L735.9 451.0 L737.6 452.0 L738.9 451.2 L740.3 452.2 L742.7 452.6 L742.8 453.9 L745.3 454.3 L745.0 455.9 L746.9 456.7 L746.2 458.8 L746.7 460.2 L745.5 460.9 L745.7 462.7 L744.3 463.2 L743.8 465.4 L742.4 465.4 L741.2 466.4 L739.2 466.6 L737.9 467.6 L735.7 466.8 L734.1 467.0 L732.8 466.3 L730.4 466.2 L730.1 464.7Z M749.8 468.8 L749.7 467.9 L747.9 466.6 L748.8 465.5 L748.1 463.8 L748.9 463.1 L748.4 461.6 L749.7 460.8 L750.0 459.0 L751.9 459.1 L753.2 457.2 L754.7 457.5 L756.6 456.7 L757.9 457.3 L759.9 456.8 L761.4 457.4 L762.8 457.0 L763.7 458.4 L765.4 458.6 L766.1 459.9 L768.1 460.7 L767.6 462.5 L769.1 463.1 L767.7 464.4 L768.5 466.3 L767.4 466.8 L767.5 468.6 L765.3 469.1 L764.9 470.4 L762.8 470.7 L762.0 472.1 L760.2 471.7 L758.2 472.3 L757.2 471.8 L755.6 471.9 L753.7 470.7 L751.9 470.6 L751.5 469.3Z M741.8 486.7 L742.3 485.5 L741.8 484.4 L743.1 483.3 L743.3 482.1 L744.2 481.6 L745.0 480.8 L747.2 480.5 L748.0 480.1 L749.6 480.2 L751.4 479.9 L752.8 481.2 L754.2 481.3 L754.6 482.5 L756.0 483.1 L755.9 484.8 L756.4 486.0 L755.5 486.5 L755.0 487.9 L753.7 488.4 L753.0 489.8 L751.3 489.4 L749.8 490.4 L748.4 489.8 L747.0 490.1 L745.3 488.9 L743.9 489.0 L743.4 487.5Z M768.5 442.6 L768.4 441.3 L767.0 440.8 L767.0 439.4 L765.7 438.2 L766.4 436.9 L764.8 435.7 L766.1 434.9 L766.0 433.5 L767.8 433.0 L767.5 431.5 L769.5 431.4 L769.4 430.3 L771.6 430.1 L772.3 429.1 L774.7 429.6 L776.1 428.4 L777.3 429.6 L778.8 429.0 L779.6 430.2 L781.5 430.1 L782.5 431.6 L784.4 431.8 L784.6 433.1 L785.8 433.8 L785.2 434.8 L786.7 435.8 L785.6 436.8 L786.2 438.2 L785.1 439.3 L784.8 440.8 L783.4 441.4 L783.2 442.4 L781.6 442.5 L780.6 443.8 L778.4 443.5 L777.3 444.5 L776.2 443.7 L774.7 444.3 L772.6 443.3 L771.5 443.8 L770.7 442.7Z M774.6 496.2 L772.9 495.0 L771.1 494.8 L770.5 493.5 L768.7 493.1 L768.9 491.7 L767.0 490.6 L768.1 489.7 L766.9 488.4 L767.8 486.8 L767.2 485.7 L769.4 484.9 L769.3 483.3 L771.3 483.0 L771.4 481.8 L773.7 481.9 L775.2 480.5 L776.8 481.5 L778.4 480.8 L780.3 481.6 L781.8 481.3 L782.8 482.4 L784.5 482.6 L784.8 484.4 L787.0 485.0 L786.5 486.3 L787.7 487.8 L786.8 488.6 L787.9 490.2 L785.9 491.2 L786.7 492.5 L784.4 493.6 L784.3 494.3 L782.3 494.9 L780.6 496.1 L779.4 495.9 L777.4 496.4 L776.6 496.0Z M792.7 508.6 L791.6 509.7 L791.8 511.1 L789.9 511.7 L789.9 513.0 L787.5 513.0 L787.3 514.1 L785.4 513.8 L782.9 514.6 L781.4 513.7 L779.7 514.1 L779.2 513.0 L776.8 512.8 L776.6 511.8 L775.0 511.2 L774.6 509.5 L773.2 508.7 L774.3 507.7 L773.5 506.5 L774.6 505.2 L774.3 504.2 L776.3 503.8 L776.7 502.0 L778.3 502.0 L779.9 501.0 L781.7 501.1 L782.6 500.3 L784.5 501.3 L786.3 500.9 L787.5 502.1 L789.1 501.8 L790.2 503.4 L791.9 503.7 L791.2 505.0 L792.9 505.8 L792.0 507.4Z M800.1 475.2 L798.8 476.5 L799.3 477.4 L798.2 478.0 L798.0 479.2 L796.4 479.4 L796.0 480.1 L794.3 480.1 L792.7 480.8 L791.4 480.1 L790.1 480.5 L789.5 479.7 L787.5 479.6 L787.2 478.6 L785.8 478.0 L785.7 477.0 L784.8 476.4 L785.3 475.4 L784.9 474.5 L785.8 473.7 L785.5 472.7 L787.2 472.1 L787.9 471.3 L789.2 471.1 L789.9 470.2 L791.8 470.7 L792.7 470.2 L794.2 470.8 L795.5 470.6 L796.4 471.5 L798.1 472.0 L798.3 473.0 L799.4 473.3 L799.2 474.6Z M806.0 470.2 L804.4 469.8 L803.1 471.0 L801.8 470.3 L800.3 470.9 L798.7 470.1 L797.6 470.4 L796.0 468.9 L794.5 469.2 L794.0 467.9 L792.4 466.9 L792.9 466.0 L791.4 465.1 L791.7 463.8 L791.2 463.1 L792.2 462.0 L791.5 460.7 L792.9 459.8 L793.1 457.9 L794.8 458.0 L795.1 456.9 L797.4 456.6 L798.0 456.0 L800.3 456.0 L801.7 455.6 L802.9 456.4 L804.9 455.5 L805.4 456.9 L807.9 456.5 L808.1 458.0 L810.0 458.0 L810.0 459.8 L811.8 459.9 L811.0 461.5 L812.4 462.3 L811.2 463.9 L812.0 465.1 L810.9 465.7 L810.9 467.4 L809.3 467.8 L809.0 469.3 L807.1 469.0Z M815.3 442.1 L813.2 441.6 L811.5 442.8 L809.4 442.4 L808.2 443.1 L806.4 441.9 L804.6 442.0 L803.2 440.5 L801.8 440.2 L801.4 438.7 L799.4 437.6 L800.3 436.2 L799.0 435.2 L800.8 433.6 L799.8 432.1 L801.2 431.7 L801.9 429.6 L803.8 429.6 L804.6 428.4 L807.2 428.3 L808.0 427.6 L810.1 428.4 L812.0 427.5 L813.2 428.6 L815.3 428.2 L816.4 430.0 L818.8 430.6 L818.5 432.1 L819.9 432.8 L819.8 434.3 L820.3 435.2 L819.5 436.7 L819.7 438.1 L817.9 438.9 L817.9 440.7 L815.9 440.9Z M851.3 439.7 L848.7 440.0 L847.2 441.4 L845.6 441.0 L843.8 441.7 L841.7 440.6 L840.1 441.1 L839.0 439.9 L836.7 439.4 L835.8 438.1 L834.2 437.6 L834.5 436.3 L833.1 434.8 L834.2 433.7 L832.8 432.6 L834.7 431.2 L834.8 429.8 L836.1 429.6 L837.1 427.9 L839.1 427.7 L839.9 426.4 L842.0 426.8 L844.2 426.1 L845.1 426.7 L847.7 426.5 L848.9 427.8 L850.9 428.3 L851.7 429.6 L853.5 429.8 L853.2 431.7 L854.5 432.1 L853.6 433.8 L854.1 435.4 L852.7 436.5 L853.0 437.4 L851.4 438.1Z M828.8 456.2 L826.8 456.0 L824.9 456.3 L823.6 455.4 L821.8 455.9 L821.0 454.3 L819.2 453.9 L818.9 452.7 L816.6 451.6 L817.1 450.0 L815.9 449.5 L817.3 447.6 L816.5 446.7 L818.0 445.2 L818.1 443.7 L820.1 443.4 L820.5 442.3 L822.1 442.1 L824.0 441.1 L825.7 441.3 L827.1 440.8 L828.2 441.4 L830.2 440.9 L831.5 442.5 L833.7 442.3 L834.0 443.8 L836.3 444.5 L836.0 446.0 L837.4 446.5 L836.5 448.3 L837.4 449.5 L836.0 450.7 L836.5 452.2 L834.8 452.7 L834.8 454.0 L832.8 454.5 L831.9 455.9 L829.7 455.4Z M834.3 462.2 L834.9 460.9 L834.3 459.4 L835.8 459.1 L836.0 456.9 L838.1 456.7 L839.2 455.4 L840.8 455.5 L842.4 454.4 L844.3 454.6 L845.2 453.9 L847.1 455.2 L849.6 454.6 L850.0 456.0 L852.3 456.6 L852.5 457.5 L854.1 458.3 L854.3 460.1 L855.8 460.7 L854.4 462.5 L854.8 463.9 L853.7 465.1 L853.6 466.1 L851.9 466.9 L850.7 468.2 L848.5 468.1 L847.4 469.6 L845.2 469.0 L844.4 469.6 L841.8 468.6 L839.7 469.0 L839.5 467.9 L836.9 467.4 L836.6 465.6 L835.4 465.0 L835.3 463.8Z M806.6 511.8 L805.7 511.1 L804.1 511.2 L802.6 510.0 L801.1 509.9 L801.0 508.4 L800.0 507.8 L800.2 506.6 L799.7 505.2 L801.3 504.6 L802.0 503.1 L803.4 502.6 L803.9 501.7 L805.8 501.8 L807.5 501.2 L809.3 502.1 L810.9 501.9 L811.6 503.2 L813.5 503.5 L813.1 504.6 L814.5 505.3 L814.1 506.5 L814.7 507.9 L813.1 508.9 L813.1 509.8 L811.2 510.6 L809.8 511.5 L808.9 511.3Z M820.8 488.2 L820.1 487.1 L818.6 486.9 L818.5 485.0 L817.2 484.5 L817.5 483.1 L817.2 481.8 L818.3 480.6 L818.4 479.4 L820.5 478.8 L821.7 477.5 L823.4 477.9 L824.2 477.4 L826.3 478.1 L828.1 477.9 L829.0 478.8 L830.9 479.6 L830.8 480.8 L832.4 482.1 L831.3 483.1 L831.6 484.6 L831.0 485.1 L830.8 486.5 L828.6 487.1 L827.5 488.6 L825.9 488.3 L824.2 488.8 L822.6 488.2Z M844.9 490.5 L843.6 489.9 L840.8 490.1 L840.1 488.8 L838.6 489.0 L837.7 487.1 L836.1 486.6 L836.0 485.0 L834.5 484.2 L835.6 482.7 L834.7 481.1 L836.4 480.2 L836.2 478.6 L837.7 478.1 L838.7 476.4 L840.5 476.6 L841.9 475.5 L843.6 476.0 L845.6 475.2 L846.7 475.8 L848.3 475.7 L849.9 476.6 L851.7 477.2 L852.3 478.3 L854.3 479.3 L854.0 480.8 L855.5 481.6 L854.6 483.1 L855.0 484.2 L853.7 485.4 L853.9 486.5 L852.1 487.4 L851.5 488.7 L849.3 489.3 L848.5 490.0 L846.0 490.1Z M828.7 507.6 L826.8 507.8 L825.3 508.1 L824.3 507.6 L822.5 507.7 L821.3 506.6 L820.1 505.9 L820.0 504.8 L818.9 503.9 L819.2 502.7 L818.8 501.6 L820.4 500.8 L820.5 499.7 L822.1 499.4 L822.9 498.6 L825.0 498.7 L825.8 498.1 L827.9 498.6 L828.9 498.7 L830.5 499.7 L831.8 500.0 L832.1 501.3 L833.1 502.4 L832.6 503.5 L832.9 504.4 L831.8 505.0 L831.5 506.3 L829.4 506.8Z M847.5 509.5 L846.3 508.8 L844.7 509.8 L843.6 509.0 L841.3 509.2 L840.6 508.1 L838.7 508.2 L838.1 507.0 L836.6 506.1 L836.6 505.5 L835.1 504.6 L836.1 503.3 L835.0 502.5 L836.5 501.2 L835.8 500.3 L837.5 499.1 L837.5 498.3 L839.3 497.9 L840.1 496.9 L842.1 497.1 L843.2 496.0 L844.9 496.8 L846.4 496.1 L847.5 497.0 L849.6 497.0 L850.2 497.8 L852.0 497.9 L852.1 499.3 L853.8 500.2 L853.7 501.4 L854.3 502.2 L853.9 503.2 L854.4 504.6 L852.8 505.2 L852.9 506.7 L850.9 507.1 L850.9 508.2 L848.6 508.3Z"/>
</g>
<g id="treedots">
<path d="M93.1 19.7 v-1.6 l2.1 -0.2 l1.2 -0.7 l-0.5 2.5z" fill="#e2eaea"/>
<path d="M173.1 12.8 v-1.6 l2.1 -0.2 l1.2 -0.7 l-0.5 2.5z" fill="#e2eaea"/>
<path d="M143.6 29.5 v-1.6 l2.1 -0.2 l1.2 -0.7 l-0.5 2.5z" fill="#e2eaea"/>
<path d="M217.3 23.2 v-1.6 l2.1 -0.2 l1.2 -0.7 l-0.5 2.5z" fill="#e2eaea"/>
<path d="M144.8 54.6 v-1.6 l2.1 -0.2 l1.2 -0.7 l-0.5 2.5z" fill="#e2eaea"/>
<path d="M224.4 47.7 v-1.6 l2.1 -0.2 l1.2 -0.7 l-0.5 2.5z" fill="#e2eaea"/>
<path d="M191.0 60.0 v-1.6 l2.1 -0.2 l1.2 -0.7 l-0.5 2.5z" fill="#e2eaea"/>
<path d="M265.1 54.0 v-1.6 l2.1 -0.2 l1.2 -0.7 l-0.5 2.5z" fill="#e2eaea"/>
<path d="M38.4 94.0 v-1.6 l2.1 -0.2 l1.2 -0.7 l-0.5 2.5z" fill="#e2eaea"/>
<path d="M118.2 87.2 v-1.6 l2.1 -0.2 l1.2 -0.7 l-0.5 2.5z" fill="#e2eaea"/>
<path d="M89.1 104.1 v-1.6 l2.1 -0.2 l1.2 -0.7 l-0.5 2.5z" fill="#e2eaea"/>
<path d="M163.1 98.1 v-1.6 l2.1 -0.2 l1.2 -0.7 l-0.5 2.5z" fill="#e2eaea"/>
<path d="M90.1 129.2 v-1.6 l2.1 -0.2 l1.2 -0.7 l-0.5 2.5z" fill="#e2eaea"/>
<path d="M170.1 122.2 v-1.6 l2.1 -0.2 l1.2 -0.7 l-0.5 2.5z" fill="#e2eaea"/>
<path d="M210.8 129.1 v-1.6 l2.1 -0.2 l1.2 -0.7 l-0.5 2.5z" fill="#e2eaea"/>
<path d="M137.1 135.2 v-1.6 l2.1 -0.2 l1.2 -0.7 l-0.5 2.5z" fill="#e2eaea"/>
<path d="M270.1 18.2 l2.0 -1.0 l0.3 0.7 l-2.0 1.0z" fill="#7d9294"/>
<path d="M337.6 12.7 l2.0 -1.0 l0.3 0.7 l-2.0 1.0z" fill="#7d9294"/>
<path d="M313.4 44.4 l2.0 -1.0 l0.3 0.7 l-2.0 1.0z" fill="#7d9294"/>
<path d="M380.8 39.3 l2.0 -1.0 l0.3 0.7 l-2.0 1.0z" fill="#7d9294"/>
<path d="M347.0 74.3 v-1.6 l2.1 -0.2 l1.2 -0.7 l-0.5 2.5z" fill="#e2eaea"/>
<path d="M266.3 82.2 v-1.6 l2.1 -0.2 l1.2 -0.7 l-0.5 2.5z" fill="#e2eaea"/>
<path d="M283.6 87.6 l2.0 -1.0 l0.3 0.7 l-2.0 1.0z" fill="#7d9294"/>
<path d="M318.0 91.2 v-1.6 l2.1 -0.2 l1.2 -0.7 l-0.5 2.5z" fill="#e2eaea"/>
<path d="M392.1 85.0 v-1.6 l2.1 -0.2 l1.2 -0.7 l-0.5 2.5z" fill="#e2eaea"/>
<path d="M215.5 92.9 l2.0 -1.0 l0.3 0.7 l-2.0 1.0z" fill="#7d9294"/>
<path d="M259.3 119.2 l2.0 -1.0 l0.3 0.7 l-2.0 1.0z" fill="#7d9294"/>
<path d="M324.2 115.5 l2.0 -1.0 l0.3 0.7 l-2.0 1.0z" fill="#7d9294"/>
<path d="M365.8 121.9 v-1.6 l2.1 -0.2 l1.2 -0.7 l-0.5 2.5z" fill="#e2eaea"/>
<path d="M398.6 109.2 v-1.6 l2.1 -0.2 l1.2 -0.7 l-0.5 2.5z" fill="#e2eaea"/>
<path d="M439.2 115.8 v-1.6 l2.1 -0.2 l1.2 -0.7 l-0.5 2.5z" fill="#e2eaea"/>
<path d="M444.0 79.8 l2.0 -1.0 l0.3 0.7 l-2.0 1.0z" fill="#7d9294"/>
<path d="M511.9 74.4 l2.0 -1.0 l0.3 0.7 l-2.0 1.0z" fill="#7d9294"/>
<path d="M487.4 106.2 l2.0 -1.0 l0.3 0.7 l-2.0 1.0z" fill="#7d9294"/>
<path d="M555.4 100.6 l2.0 -1.0 l0.3 0.7 l-2.0 1.0z" fill="#7d9294"/>
<path d="M424.3 430.2 v-1.6 l2.1 -0.2 l1.2 -0.7 l-0.5 2.5z" fill="#e2eaea"/>
<path d="M474.8 440.0 v-1.6 l2.1 -0.2 l1.2 -0.7 l-0.5 2.5z" fill="#e2eaea"/>
<path d="M548.7 433.6 v-1.6 l2.1 -0.2 l1.2 -0.7 l-0.5 2.5z" fill="#e2eaea"/>
<path d="M475.8 465.2 v-1.6 l2.1 -0.2 l1.2 -0.7 l-0.5 2.5z" fill="#e2eaea"/>
<path d="M522.5 470.7 v-1.6 l2.1 -0.2 l1.2 -0.7 l-0.5 2.5z" fill="#e2eaea"/>
<path d="M555.5 457.7 v-1.6 l2.1 -0.2 l1.2 -0.7 l-0.5 2.5z" fill="#e2eaea"/>
<path d="M449.6 497.6 v-1.6 l2.1 -0.2 l1.2 -0.7 l-0.5 2.5z" fill="#e2eaea"/>
<path d="M494.4 508.4 v-1.6 l2.1 -0.2 l1.2 -0.7 l-0.5 2.5z" fill="#e2eaea"/>
<path d="M600.8 428.6 l2.0 -1.0 l0.3 0.7 l-2.0 1.0z" fill="#7d9294"/>
<path d="M596.3 464.4 v-1.6 l2.1 -0.2 l1.2 -0.7 l-0.5 2.5z" fill="#e2eaea"/>
<path d="M598.1 491.0 v-1.6 l2.1 -0.2 l1.2 -0.7 l-0.5 2.5z" fill="#e2eaea"/>
<path d="M614.2 497.8 l2.0 -1.0 l0.3 0.7 l-2.0 1.0z" fill="#7d9294"/>
<path d="M547.0 503.6 l2.0 -1.0 l0.3 0.7 l-2.0 1.0z" fill="#7d9294"/>
<path d="M644.6 454.9 l2.0 -1.0 l0.3 0.7 l-2.0 1.0z" fill="#7d9294"/>
<path d="M678.5 484.5 v-1.6 l2.1 -0.2 l1.2 -0.7 l-0.5 2.5z" fill="#e2eaea"/>
<path d="M648.9 501.8 v-1.6 l2.1 -0.2 l1.2 -0.7 l-0.5 2.5z" fill="#e2eaea"/>
<path d="M712.2 449.2 l2.0 -1.0 l0.3 0.7 l-2.0 1.0z" fill="#7d9294"/>
<path d="M722.8 495.1 v-1.6 l2.1 -0.2 l1.2 -0.7 l-0.5 2.5z" fill="#e2eaea"/>
<path d="M739.7 439.3 l2.0 -1.0 l0.3 0.7 l-2.0 1.0z" fill="#7d9294"/>
<path d="M734.7 460.9 l2.0 -1.0 l0.3 0.7 l-2.0 1.0z" fill="#7d9294"/>
<path d="M756.5 466.0 l2.0 -1.0 l0.3 0.7 l-2.0 1.0z" fill="#7d9294"/>
<path d="M774.0 438.2 l2.0 -1.0 l0.3 0.7 l-2.0 1.0z" fill="#7d9294"/>
<path d="M775.5 490.2 l2.0 -1.0 l0.3 0.7 l-2.0 1.0z" fill="#7d9294"/>
<path d="M799.8 464.8 l2.0 -1.0 l0.3 0.7 l-2.0 1.0z" fill="#7d9294"/>
<path d="M808.1 436.8 l2.0 -1.0 l0.3 0.7 l-2.0 1.0z" fill="#7d9294"/>
<path d="M842.0 435.4 l2.0 -1.0 l0.3 0.7 l-2.0 1.0z" fill="#7d9294"/>
<path d="M825.0 450.2 l2.0 -1.0 l0.3 0.7 l-2.0 1.0z" fill="#7d9294"/>
<path d="M843.0 463.4 l2.0 -1.0 l0.3 0.7 l-2.0 1.0z" fill="#7d9294"/>
<path d="M843.2 484.5 l2.0 -1.0 l0.3 0.7 l-2.0 1.0z" fill="#7d9294"/>
</g>
<g id="road">
<line class="thick" x1="0" y1="175.15" x2="865.2" y2="175.15"/>
<line class="thick" x1="0" y1="414.45" x2="865" y2="414.45"/>
<path class="thick" d="M580.8 175 L580.8 2.6 L865.2 2.6"/>
<line class="thick" x1="0" y1="292.05" x2="864.6" y2="292.05" stroke-dasharray="56.3 26.9"/>
</g>
<g id="arrows">
<line x1="59" y1="246.6" x2="111.5" y2="246.6" stroke="#3c3c3c" stroke-width="1"/>
<path d="M41.8 246.9 L59.9 238.3 L59.9 255.7Z" fill="#1c1615"/>
<line x1="680.1" y1="365.25" x2="733" y2="365.25" stroke="#3c3c3c" stroke-width="1"/>
<path d="M750 365.2 L732.1 356.3 L732.1 374.2Z" fill="#1c1615"/>
</g>
<rect class="thin" x="1.45" y="458.5" width="86.9" height="27.5"/>
<rect class="thin" x="187.65" y="458.5" width="183.25" height="27.5"/>
<path d="M279.8 460.4 L266.8 481.9 L292.7 481.9Z" fill="#1c1615"/>
<g id="buildings">
<rect x="1.25" y="570.4" width="120.3" height="104.4" fill="url(#hatch)" stroke="#1c1615" stroke-width="4.8"/>
<rect x="169.6" y="572.75" width="185" height="101.55" fill="url(#hatch)" stroke="#1c1615" stroke-width="4.8"/>
</g>
<g id="compass">
<ellipse cx="140.3" cy="745" rx="89" ry="88.3" fill="#fff" stroke="#5e5e5e" stroke-width="3.5"/>
<circle cx="160.15" cy="722.6" r="26.8" fill="none" stroke="#444" stroke-width="0.9"/>
<path d="M93.6 791.8 L170.1 686.8 L195.6 711Z" fill="none" stroke="#444" stroke-width="0.9"/>
<line x1="133.9" y1="696" x2="141.1" y2="702.7" stroke="#444" stroke-width="0.9"/>
<line x1="180.5" y1="742" x2="187.2" y2="748.4" stroke="#444" stroke-width="0.9"/>
<line x1="80.3" y1="805.9" x2="85.2" y2="801.1" stroke="#444" stroke-width="0.9"/>
<line x1="114.0" y1="770.9" x2="118.9" y2="766.1" stroke="#444" stroke-width="0.9"/>
<line x1="130.7" y1="753.5" x2="135.5" y2="748.8" stroke="#444" stroke-width="0.9"/>
<line x1="147.5" y1="735.9" x2="152.3" y2="731.1" stroke="#444" stroke-width="0.9"/>
<line x1="164.7" y1="718.5" x2="169.5" y2="713.8" stroke="#444" stroke-width="0.9"/>
<line x1="181.5" y1="701.1" x2="186.3" y2="696.4" stroke="#444" stroke-width="0.9"/>
<text x="0" y="0" text-anchor="middle" style="font-size:30.5px" transform="translate(160.7 722.2) rotate(44) translate(0 10.5)">N</text>
</g>
<g id="detail">
<path class="dash" stroke-dasharray="13.5 7.297" stroke-dashoffset="5.13" d="M291.3 480.9 L416.4 563.3 L416.3 807.4 L822.4 808.4 L820.4 524.5 L416.4 524.4 L291.3 479.7"/>
<rect class="thin" x="547.6" y="667.0" width="204.95" height="52.1"/>
<path d="M660.8 675.6 L644.6 704.1 L676.3 704.1Z" fill="#1c1615"/>
<circle cx="660.8" cy="692.9" r="2.1" fill="#fff"/>
<path class="lead" d="M575.4 610.9 L616.6 691.3"/><path class="uline" d="M432.4 611 L575.6 611"/>
<path class="lead" d="M663.5 704.2 L691.2 775.45"/><path class="uline" d="M691 775.45 L779.6 775.45"/>
<path class="dim" d="M661.4 646.8 V660.8 M661.4 654.1 H679.8 M731.8 654.1 H752.6 M752.6 646.8 V660.8"/>
<path class="dim" d="M547.6 729.4 V743.8 M547.6 736.9 H570.1 M627.6 736.9 H659.3 M659.3 729.4 V743.8"/>
<path class="dim" d="M513.9 679.5 V692.4 M507 692.4 H521.5 M507 719.2 H521.5 M513.9 719.2 V731.9"/>
<path class="dim" d="M774.4 667.0 H789 M782.4 667.0 V678 M782.4 702.1 V719.2 M774.4 719.2 H789"/>
</g>
<g id="labels">
<text x="640.91" y="77.40" textLength="173.41" lengthAdjust="spacingAndGlyphs" transform="rotate(0.03 728.1 77.4)" style="font-size:30.8px">Distributore</text>
<text x="681.36" y="111.70" textLength="51.00" lengthAdjust="spacingAndGlyphs" transform="rotate(0.03 706.2 111.7)" style="font-size:31px">API</text>
<text x="154.90" y="256.70" textLength="85.30" lengthAdjust="spacingAndGlyphs" transform="rotate(0.03 197.5 256.7)" style="font-size:34.1px">RIETI</text>
<text x="385.04" y="279.70" textLength="89.14" lengthAdjust="spacingAndGlyphs" transform="rotate(0.03 430.1 279.7)" style="font-size:34.1px">S.S. 4</text>
<text x="548.70" y="371.70" textLength="101.67" lengthAdjust="spacingAndGlyphs" transform="rotate(0.03 600.2 371.7)" style="font-size:34.0px">ROMA</text>
<text x="433.34" y="603.90" textLength="131.59" lengthAdjust="spacingAndGlyphs" transform="rotate(0.03 499.4 603.9)" style="font-size:22.9px">Muro in CLS</text>
<text x="696.73" y="768.00" textLength="83.73" lengthAdjust="spacingAndGlyphs" transform="rotate(0.03 738.6 768.0)" style="font-size:23.1px">CT-GPS</text>
<text x="685.24" y="661.50" textLength="41.88" lengthAdjust="spacingAndGlyphs" transform="rotate(0.03 706.0 661.5)" style="font-size:21.2px">6,60</text>
<text x="578.23" y="743.20" textLength="42.09" lengthAdjust="spacingAndGlyphs" transform="rotate(0.03 599.1 743.2)" style="font-size:21.2px">9,30</text>
<text x="495.02" y="711.20" textLength="43.17" lengthAdjust="spacingAndGlyphs" transform="rotate(0.03 516.6 711.2)" style="font-size:21.2px">0,09</text>
<text x="762.32" y="698.40" textLength="42.75" lengthAdjust="spacingAndGlyphs" transform="rotate(0.03 783.7 698.4)" style="font-size:21.2px">0,18</text>
</g>
</svg>
</body></html>
